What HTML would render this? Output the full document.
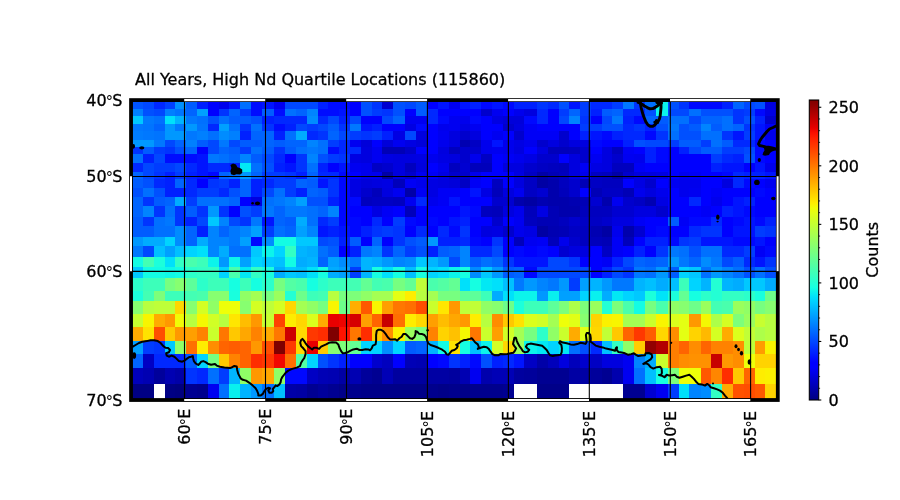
<!DOCTYPE html>
<html lang="en"><head><meta charset="utf-8"><title>All Years, High Nd Quartile Locations</title>
<style>
html,body{margin:0;padding:0;background:#fff;}
body{width:900px;height:500px;overflow:hidden;}
svg{display:block;}
text{font-family:"DejaVu Sans","Liberation Sans",sans-serif;font-size:16px;fill:#000;stroke:#000;stroke-width:0.3px;}
.deg{font-size:14.5px;stroke-width:0;}
</style></head><body>
<svg width="900" height="500" viewBox="0 0 900 500">
<rect width="900" height="500" fill="#fff"/>
<g shape-rendering="crispEdges">
<rect x="131" y="100" width="12" height="9" fill="#0054ff"/>
<rect x="143" y="100" width="11" height="9" fill="#0048ff"/>
<rect x="154" y="100" width="11" height="9" fill="#0028ff"/>
<rect x="165" y="100" width="10" height="9" fill="#0040ff"/>
<rect x="175" y="100" width="11" height="9" fill="#0090ff"/>
<rect x="186" y="100" width="11" height="9" fill="#005cff"/>
<rect x="197" y="100" width="11" height="9" fill="#0020ff"/>
<rect x="208" y="100" width="11" height="9" fill="#0000ff"/>
<rect x="219" y="100" width="10" height="9" fill="#0000ed"/>
<rect x="229" y="100" width="11" height="9" fill="#0014ff"/>
<rect x="240" y="100" width="11" height="9" fill="#0070ff"/>
<rect x="251" y="100" width="11" height="9" fill="#000cff"/>
<rect x="262" y="100" width="12" height="9" fill="#0014ff"/>
<rect x="274" y="100" width="11" height="9" fill="#0000f1"/>
<rect x="285" y="100" width="33" height="9" fill="#0048ff"/>
<rect x="318" y="100" width="10" height="9" fill="#0020ff"/>
<rect x="328" y="100" width="22" height="9" fill="#000cff"/>
<rect x="350" y="100" width="11" height="9" fill="#0000ff"/>
<rect x="361" y="100" width="11" height="9" fill="#0050ff"/>
<rect x="372" y="100" width="10" height="9" fill="#0034ff"/>
<rect x="382" y="100" width="11" height="9" fill="#0000d1"/>
<rect x="393" y="100" width="12" height="9" fill="#0050ff"/>
<rect x="405" y="100" width="11" height="9" fill="#0048ff"/>
<rect x="416" y="100" width="11" height="9" fill="#005cff"/>
<rect x="427" y="100" width="11" height="9" fill="#0000ff"/>
<rect x="438" y="100" width="11" height="9" fill="#0014ff"/>
<rect x="449" y="100" width="11" height="9" fill="#0000f1"/>
<rect x="460" y="100" width="10" height="9" fill="#0014ff"/>
<rect x="470" y="100" width="11" height="9" fill="#0020ff"/>
<rect x="481" y="100" width="11" height="9" fill="#0008ff"/>
<rect x="492" y="100" width="11" height="9" fill="#0014ff"/>
<rect x="503" y="100" width="11" height="9" fill="#0008ff"/>
<rect x="514" y="100" width="23" height="9" fill="#0020ff"/>
<rect x="537" y="100" width="11" height="9" fill="#0034ff"/>
<rect x="548" y="100" width="11" height="9" fill="#0028ff"/>
<rect x="559" y="100" width="10" height="9" fill="#0050ff"/>
<rect x="569" y="100" width="11" height="9" fill="#0014ff"/>
<rect x="580" y="100" width="11" height="9" fill="#003cff"/>
<rect x="591" y="100" width="21" height="9" fill="#0028ff"/>
<rect x="612" y="100" width="11" height="9" fill="#003cff"/>
<rect x="623" y="100" width="11" height="9" fill="#0078ff"/>
<rect x="634" y="100" width="11" height="9" fill="#0034ff"/>
<rect x="645" y="100" width="11" height="9" fill="#0070ff"/>
<rect x="656" y="100" width="12" height="9" fill="#0cf4eb"/>
<rect x="668" y="100" width="11" height="9" fill="#0050ff"/>
<rect x="679" y="100" width="10" height="9" fill="#0034ff"/>
<rect x="689" y="100" width="33" height="9" fill="#0008ff"/>
<rect x="722" y="100" width="11" height="9" fill="#0020ff"/>
<rect x="733" y="100" width="11" height="9" fill="#0064ff"/>
<rect x="744" y="100" width="11" height="9" fill="#0048ff"/>
<rect x="755" y="100" width="10" height="9" fill="#0050ff"/>
<rect x="765" y="100" width="13" height="9" fill="#0000df"/>
<rect x="131" y="109" width="12" height="7" fill="#0080ff"/>
<rect x="143" y="109" width="11" height="7" fill="#0050ff"/>
<rect x="154" y="109" width="11" height="7" fill="#0048ff"/>
<rect x="165" y="109" width="10" height="7" fill="#0080ff"/>
<rect x="175" y="109" width="11" height="7" fill="#0074ff"/>
<rect x="186" y="109" width="11" height="7" fill="#0064ff"/>
<rect x="197" y="109" width="11" height="7" fill="#00a0ff"/>
<rect x="208" y="109" width="11" height="7" fill="#0000ff"/>
<rect x="219" y="109" width="10" height="7" fill="#0034ff"/>
<rect x="229" y="109" width="11" height="7" fill="#0064ff"/>
<rect x="240" y="109" width="11" height="7" fill="#003cff"/>
<rect x="251" y="109" width="11" height="7" fill="#000cff"/>
<rect x="262" y="109" width="12" height="7" fill="#005cff"/>
<rect x="274" y="109" width="11" height="7" fill="#000cff"/>
<rect x="285" y="109" width="11" height="7" fill="#0070ff"/>
<rect x="296" y="109" width="11" height="7" fill="#0064ff"/>
<rect x="307" y="109" width="11" height="7" fill="#0084ff"/>
<rect x="318" y="109" width="21" height="7" fill="#000cff"/>
<rect x="339" y="109" width="11" height="7" fill="#0014ff"/>
<rect x="350" y="109" width="11" height="7" fill="#0000ff"/>
<rect x="361" y="109" width="11" height="7" fill="#0050ff"/>
<rect x="372" y="109" width="10" height="7" fill="#003cff"/>
<rect x="382" y="109" width="11" height="7" fill="#0034ff"/>
<rect x="393" y="109" width="12" height="7" fill="#0050ff"/>
<rect x="405" y="109" width="11" height="7" fill="#0000ff"/>
<rect x="416" y="109" width="11" height="7" fill="#005cff"/>
<rect x="427" y="109" width="11" height="7" fill="#0028ff"/>
<rect x="438" y="109" width="11" height="7" fill="#0000ff"/>
<rect x="449" y="109" width="32" height="7" fill="#0000ff"/>
<rect x="481" y="109" width="11" height="7" fill="#0000cd"/>
<rect x="492" y="109" width="11" height="7" fill="#0000f1"/>
<rect x="503" y="109" width="11" height="7" fill="#0000ff"/>
<rect x="514" y="109" width="10" height="7" fill="#0000ed"/>
<rect x="524" y="109" width="13" height="7" fill="#0000df"/>
<rect x="537" y="109" width="11" height="7" fill="#0028ff"/>
<rect x="548" y="109" width="11" height="7" fill="#0000ff"/>
<rect x="559" y="109" width="10" height="7" fill="#003cff"/>
<rect x="569" y="109" width="11" height="7" fill="#0064ff"/>
<rect x="580" y="109" width="11" height="7" fill="#003cff"/>
<rect x="591" y="109" width="11" height="7" fill="#0020ff"/>
<rect x="602" y="109" width="10" height="7" fill="#005cff"/>
<rect x="612" y="109" width="11" height="7" fill="#0064ff"/>
<rect x="623" y="109" width="22" height="7" fill="#0028ff"/>
<rect x="645" y="109" width="11" height="7" fill="#0050ff"/>
<rect x="656" y="109" width="12" height="7" fill="#0cf4eb"/>
<rect x="668" y="109" width="21" height="7" fill="#0048ff"/>
<rect x="689" y="109" width="12" height="7" fill="#0070ff"/>
<rect x="701" y="109" width="32" height="7" fill="#0050ff"/>
<rect x="733" y="109" width="11" height="7" fill="#0034ff"/>
<rect x="744" y="109" width="11" height="7" fill="#003cff"/>
<rect x="755" y="109" width="10" height="7" fill="#0008ff"/>
<rect x="765" y="109" width="13" height="7" fill="#0000e3"/>
<rect x="131" y="116" width="12" height="8" fill="#00c8ff"/>
<rect x="143" y="116" width="11" height="8" fill="#0078ff"/>
<rect x="154" y="116" width="11" height="8" fill="#0070ff"/>
<rect x="165" y="116" width="10" height="8" fill="#00e0fb"/>
<rect x="175" y="116" width="11" height="8" fill="#00b4ff"/>
<rect x="186" y="116" width="11" height="8" fill="#0078ff"/>
<rect x="197" y="116" width="11" height="8" fill="#0070ff"/>
<rect x="208" y="116" width="11" height="8" fill="#0050ff"/>
<rect x="219" y="116" width="10" height="8" fill="#0070ff"/>
<rect x="229" y="116" width="22" height="8" fill="#005cff"/>
<rect x="251" y="116" width="11" height="8" fill="#0050ff"/>
<rect x="262" y="116" width="12" height="8" fill="#0020ff"/>
<rect x="274" y="116" width="33" height="8" fill="#0028ff"/>
<rect x="307" y="116" width="11" height="8" fill="#008cff"/>
<rect x="318" y="116" width="10" height="8" fill="#0028ff"/>
<rect x="328" y="116" width="11" height="8" fill="#0048ff"/>
<rect x="339" y="116" width="11" height="8" fill="#0020ff"/>
<rect x="350" y="116" width="11" height="8" fill="#0048ff"/>
<rect x="361" y="116" width="21" height="8" fill="#0000ff"/>
<rect x="382" y="116" width="11" height="8" fill="#0048ff"/>
<rect x="393" y="116" width="12" height="8" fill="#0064ff"/>
<rect x="405" y="116" width="22" height="8" fill="#0000f1"/>
<rect x="427" y="116" width="11" height="8" fill="#0028ff"/>
<rect x="438" y="116" width="11" height="8" fill="#0008ff"/>
<rect x="449" y="116" width="11" height="8" fill="#0000f1"/>
<rect x="460" y="116" width="10" height="8" fill="#0000ed"/>
<rect x="470" y="116" width="11" height="8" fill="#0008ff"/>
<rect x="481" y="116" width="11" height="8" fill="#0000ff"/>
<rect x="492" y="116" width="11" height="8" fill="#0000e3"/>
<rect x="503" y="116" width="21" height="8" fill="#0000da"/>
<rect x="524" y="116" width="13" height="8" fill="#0008ff"/>
<rect x="537" y="116" width="11" height="8" fill="#0028ff"/>
<rect x="548" y="116" width="11" height="8" fill="#0000ff"/>
<rect x="559" y="116" width="10" height="8" fill="#0048ff"/>
<rect x="569" y="116" width="11" height="8" fill="#0084ff"/>
<rect x="580" y="116" width="11" height="8" fill="#0034ff"/>
<rect x="591" y="116" width="11" height="8" fill="#0000ff"/>
<rect x="602" y="116" width="10" height="8" fill="#0048ff"/>
<rect x="612" y="116" width="11" height="8" fill="#0078ff"/>
<rect x="623" y="116" width="11" height="8" fill="#0020ff"/>
<rect x="634" y="116" width="11" height="8" fill="#0008ff"/>
<rect x="645" y="116" width="11" height="8" fill="#0064ff"/>
<rect x="656" y="116" width="12" height="8" fill="#005cff"/>
<rect x="668" y="116" width="21" height="8" fill="#0070ff"/>
<rect x="689" y="116" width="12" height="8" fill="#0048ff"/>
<rect x="701" y="116" width="21" height="8" fill="#0064ff"/>
<rect x="722" y="116" width="11" height="8" fill="#0070ff"/>
<rect x="733" y="116" width="11" height="8" fill="#0034ff"/>
<rect x="744" y="116" width="11" height="8" fill="#0050ff"/>
<rect x="755" y="116" width="10" height="8" fill="#0020ff"/>
<rect x="765" y="116" width="13" height="8" fill="#0000cd"/>
<rect x="131" y="124" width="12" height="7" fill="#0078ff"/>
<rect x="143" y="124" width="11" height="7" fill="#0074ff"/>
<rect x="154" y="124" width="11" height="7" fill="#0064ff"/>
<rect x="165" y="124" width="10" height="7" fill="#0098ff"/>
<rect x="175" y="124" width="11" height="7" fill="#0078ff"/>
<rect x="186" y="124" width="11" height="7" fill="#0098ff"/>
<rect x="197" y="124" width="11" height="7" fill="#0074ff"/>
<rect x="208" y="124" width="11" height="7" fill="#0028ff"/>
<rect x="219" y="124" width="10" height="7" fill="#00a0ff"/>
<rect x="229" y="124" width="11" height="7" fill="#0070ff"/>
<rect x="240" y="124" width="11" height="7" fill="#0034ff"/>
<rect x="251" y="124" width="11" height="7" fill="#0070ff"/>
<rect x="262" y="124" width="12" height="7" fill="#0034ff"/>
<rect x="274" y="124" width="11" height="7" fill="#000cff"/>
<rect x="285" y="124" width="11" height="7" fill="#0020ff"/>
<rect x="296" y="124" width="11" height="7" fill="#0048ff"/>
<rect x="307" y="124" width="11" height="7" fill="#003cff"/>
<rect x="318" y="124" width="10" height="7" fill="#0048ff"/>
<rect x="328" y="124" width="11" height="7" fill="#005cff"/>
<rect x="339" y="124" width="11" height="7" fill="#0034ff"/>
<rect x="350" y="124" width="11" height="7" fill="#0078ff"/>
<rect x="361" y="124" width="11" height="7" fill="#0014ff"/>
<rect x="372" y="124" width="10" height="7" fill="#0020ff"/>
<rect x="382" y="124" width="23" height="7" fill="#0000ff"/>
<rect x="405" y="124" width="11" height="7" fill="#0000e3"/>
<rect x="416" y="124" width="11" height="7" fill="#0008ff"/>
<rect x="427" y="124" width="11" height="7" fill="#0000ff"/>
<rect x="438" y="124" width="11" height="7" fill="#0000ed"/>
<rect x="449" y="124" width="11" height="7" fill="#0000f1"/>
<rect x="460" y="124" width="10" height="7" fill="#0000e3"/>
<rect x="470" y="124" width="11" height="7" fill="#0000f1"/>
<rect x="481" y="124" width="22" height="7" fill="#0000ff"/>
<rect x="503" y="124" width="11" height="7" fill="#0000cd"/>
<rect x="514" y="124" width="10" height="7" fill="#0000df"/>
<rect x="524" y="124" width="13" height="7" fill="#0000f6"/>
<rect x="537" y="124" width="32" height="7" fill="#0000ff"/>
<rect x="569" y="124" width="11" height="7" fill="#0000ff"/>
<rect x="580" y="124" width="22" height="7" fill="#003cff"/>
<rect x="602" y="124" width="21" height="7" fill="#0050ff"/>
<rect x="623" y="124" width="11" height="7" fill="#0028ff"/>
<rect x="634" y="124" width="11" height="7" fill="#0034ff"/>
<rect x="645" y="124" width="11" height="7" fill="#0020ff"/>
<rect x="656" y="124" width="12" height="7" fill="#0050ff"/>
<rect x="668" y="124" width="11" height="7" fill="#0078ff"/>
<rect x="679" y="124" width="10" height="7" fill="#0050ff"/>
<rect x="689" y="124" width="12" height="7" fill="#005cff"/>
<rect x="701" y="124" width="10" height="7" fill="#0084ff"/>
<rect x="711" y="124" width="11" height="7" fill="#005cff"/>
<rect x="722" y="124" width="11" height="7" fill="#0070ff"/>
<rect x="733" y="124" width="11" height="7" fill="#0064ff"/>
<rect x="744" y="124" width="11" height="7" fill="#0034ff"/>
<rect x="755" y="124" width="10" height="7" fill="#0014ff"/>
<rect x="765" y="124" width="13" height="7" fill="#0000f6"/>
<rect x="131" y="131" width="12" height="9" fill="#007cff"/>
<rect x="143" y="131" width="11" height="9" fill="#0078ff"/>
<rect x="154" y="131" width="11" height="9" fill="#0074ff"/>
<rect x="165" y="131" width="21" height="9" fill="#0098ff"/>
<rect x="186" y="131" width="11" height="9" fill="#0078ff"/>
<rect x="197" y="131" width="11" height="9" fill="#0080ff"/>
<rect x="208" y="131" width="11" height="9" fill="#0070ff"/>
<rect x="219" y="131" width="10" height="9" fill="#008cff"/>
<rect x="229" y="131" width="11" height="9" fill="#0080ff"/>
<rect x="240" y="131" width="11" height="9" fill="#0020ff"/>
<rect x="251" y="131" width="23" height="9" fill="#0064ff"/>
<rect x="274" y="131" width="11" height="9" fill="#0020ff"/>
<rect x="285" y="131" width="11" height="9" fill="#0070ff"/>
<rect x="296" y="131" width="11" height="9" fill="#00acff"/>
<rect x="307" y="131" width="11" height="9" fill="#0028ff"/>
<rect x="318" y="131" width="10" height="9" fill="#0034ff"/>
<rect x="328" y="131" width="11" height="9" fill="#0064ff"/>
<rect x="339" y="131" width="11" height="9" fill="#0048ff"/>
<rect x="350" y="131" width="11" height="9" fill="#003cff"/>
<rect x="361" y="131" width="11" height="9" fill="#0034ff"/>
<rect x="372" y="131" width="10" height="9" fill="#003cff"/>
<rect x="382" y="131" width="11" height="9" fill="#0020ff"/>
<rect x="393" y="131" width="12" height="9" fill="#0000e3"/>
<rect x="405" y="131" width="11" height="9" fill="#0048ff"/>
<rect x="416" y="131" width="11" height="9" fill="#0000df"/>
<rect x="427" y="131" width="11" height="9" fill="#0000ff"/>
<rect x="438" y="131" width="11" height="9" fill="#0000f1"/>
<rect x="449" y="131" width="11" height="9" fill="#0000df"/>
<rect x="460" y="131" width="10" height="9" fill="#0000cd"/>
<rect x="470" y="131" width="11" height="9" fill="#0000df"/>
<rect x="481" y="131" width="11" height="9" fill="#0000ff"/>
<rect x="492" y="131" width="11" height="9" fill="#0000f1"/>
<rect x="503" y="131" width="11" height="9" fill="#0000ff"/>
<rect x="514" y="131" width="10" height="9" fill="#0000cd"/>
<rect x="524" y="131" width="35" height="9" fill="#0000f6"/>
<rect x="559" y="131" width="10" height="9" fill="#0000cd"/>
<rect x="569" y="131" width="11" height="9" fill="#0000ff"/>
<rect x="580" y="131" width="11" height="9" fill="#0020ff"/>
<rect x="591" y="131" width="11" height="9" fill="#0014ff"/>
<rect x="602" y="131" width="10" height="9" fill="#0008ff"/>
<rect x="612" y="131" width="11" height="9" fill="#0020ff"/>
<rect x="623" y="131" width="22" height="9" fill="#0028ff"/>
<rect x="645" y="131" width="11" height="9" fill="#0008ff"/>
<rect x="656" y="131" width="12" height="9" fill="#0034ff"/>
<rect x="668" y="131" width="11" height="9" fill="#0070ff"/>
<rect x="679" y="131" width="22" height="9" fill="#0050ff"/>
<rect x="701" y="131" width="21" height="9" fill="#0070ff"/>
<rect x="722" y="131" width="11" height="9" fill="#0034ff"/>
<rect x="733" y="131" width="11" height="9" fill="#0014ff"/>
<rect x="744" y="131" width="11" height="9" fill="#003cff"/>
<rect x="755" y="131" width="10" height="9" fill="#0014ff"/>
<rect x="765" y="131" width="13" height="9" fill="#0000ed"/>
<rect x="131" y="140" width="23" height="7" fill="#0098ff"/>
<rect x="154" y="140" width="11" height="7" fill="#0078ff"/>
<rect x="165" y="140" width="10" height="7" fill="#0048ff"/>
<rect x="175" y="140" width="11" height="7" fill="#0064ff"/>
<rect x="186" y="140" width="11" height="7" fill="#0080ff"/>
<rect x="197" y="140" width="11" height="7" fill="#005cff"/>
<rect x="208" y="140" width="11" height="7" fill="#0048ff"/>
<rect x="219" y="140" width="10" height="7" fill="#0078ff"/>
<rect x="229" y="140" width="11" height="7" fill="#0048ff"/>
<rect x="240" y="140" width="22" height="7" fill="#005cff"/>
<rect x="262" y="140" width="12" height="7" fill="#0064ff"/>
<rect x="274" y="140" width="11" height="7" fill="#005cff"/>
<rect x="285" y="140" width="22" height="7" fill="#0064ff"/>
<rect x="307" y="140" width="11" height="7" fill="#0084ff"/>
<rect x="318" y="140" width="10" height="7" fill="#0070ff"/>
<rect x="328" y="140" width="11" height="7" fill="#003cff"/>
<rect x="339" y="140" width="11" height="7" fill="#0028ff"/>
<rect x="350" y="140" width="11" height="7" fill="#0000f1"/>
<rect x="361" y="140" width="11" height="7" fill="#0000da"/>
<rect x="372" y="140" width="10" height="7" fill="#0000ff"/>
<rect x="382" y="140" width="11" height="7" fill="#0000da"/>
<rect x="393" y="140" width="12" height="7" fill="#0000f1"/>
<rect x="405" y="140" width="11" height="7" fill="#0000e3"/>
<rect x="416" y="140" width="11" height="7" fill="#0000da"/>
<rect x="427" y="140" width="11" height="7" fill="#0000ff"/>
<rect x="438" y="140" width="11" height="7" fill="#0000ed"/>
<rect x="449" y="140" width="11" height="7" fill="#0000df"/>
<rect x="460" y="140" width="10" height="7" fill="#0000b2"/>
<rect x="470" y="140" width="11" height="7" fill="#0000c4"/>
<rect x="481" y="140" width="11" height="7" fill="#0000ed"/>
<rect x="492" y="140" width="11" height="7" fill="#0014ff"/>
<rect x="503" y="140" width="11" height="7" fill="#0000ed"/>
<rect x="514" y="140" width="10" height="7" fill="#0000e3"/>
<rect x="524" y="140" width="13" height="7" fill="#0000ed"/>
<rect x="537" y="140" width="11" height="7" fill="#0000cd"/>
<rect x="548" y="140" width="11" height="7" fill="#0000df"/>
<rect x="559" y="140" width="10" height="7" fill="#0000cd"/>
<rect x="569" y="140" width="22" height="7" fill="#0000df"/>
<rect x="591" y="140" width="11" height="7" fill="#0008ff"/>
<rect x="602" y="140" width="10" height="7" fill="#0000ff"/>
<rect x="612" y="140" width="11" height="7" fill="#0000ff"/>
<rect x="623" y="140" width="11" height="7" fill="#0020ff"/>
<rect x="634" y="140" width="11" height="7" fill="#0050ff"/>
<rect x="645" y="140" width="23" height="7" fill="#0048ff"/>
<rect x="668" y="140" width="11" height="7" fill="#003cff"/>
<rect x="679" y="140" width="22" height="7" fill="#005cff"/>
<rect x="701" y="140" width="10" height="7" fill="#003cff"/>
<rect x="711" y="140" width="11" height="7" fill="#0070ff"/>
<rect x="722" y="140" width="11" height="7" fill="#005cff"/>
<rect x="733" y="140" width="22" height="7" fill="#0028ff"/>
<rect x="755" y="140" width="10" height="7" fill="#0008ff"/>
<rect x="765" y="140" width="13" height="7" fill="#0000ff"/>
<rect x="131" y="147" width="12" height="7" fill="#0034ff"/>
<rect x="143" y="147" width="11" height="7" fill="#005cff"/>
<rect x="154" y="147" width="11" height="7" fill="#003cff"/>
<rect x="165" y="147" width="10" height="7" fill="#0034ff"/>
<rect x="175" y="147" width="11" height="7" fill="#0050ff"/>
<rect x="186" y="147" width="11" height="7" fill="#0064ff"/>
<rect x="197" y="147" width="11" height="7" fill="#0000ff"/>
<rect x="208" y="147" width="11" height="7" fill="#0048ff"/>
<rect x="219" y="147" width="10" height="7" fill="#0064ff"/>
<rect x="229" y="147" width="11" height="7" fill="#005cff"/>
<rect x="240" y="147" width="11" height="7" fill="#003cff"/>
<rect x="251" y="147" width="11" height="7" fill="#0070ff"/>
<rect x="262" y="147" width="12" height="7" fill="#005cff"/>
<rect x="274" y="147" width="11" height="7" fill="#0034ff"/>
<rect x="285" y="147" width="11" height="7" fill="#005cff"/>
<rect x="296" y="147" width="11" height="7" fill="#0070ff"/>
<rect x="307" y="147" width="11" height="7" fill="#0078ff"/>
<rect x="318" y="147" width="10" height="7" fill="#0070ff"/>
<rect x="328" y="147" width="11" height="7" fill="#000cff"/>
<rect x="339" y="147" width="22" height="7" fill="#0028ff"/>
<rect x="361" y="147" width="11" height="7" fill="#0000df"/>
<rect x="372" y="147" width="10" height="7" fill="#0000f1"/>
<rect x="382" y="147" width="23" height="7" fill="#0000b6"/>
<rect x="405" y="147" width="11" height="7" fill="#0000c8"/>
<rect x="416" y="147" width="11" height="7" fill="#0000ff"/>
<rect x="427" y="147" width="11" height="7" fill="#0000ff"/>
<rect x="438" y="147" width="11" height="7" fill="#0000df"/>
<rect x="449" y="147" width="11" height="7" fill="#0000bf"/>
<rect x="460" y="147" width="21" height="7" fill="#0000cd"/>
<rect x="481" y="147" width="11" height="7" fill="#0000ed"/>
<rect x="492" y="147" width="11" height="7" fill="#0000f1"/>
<rect x="503" y="147" width="11" height="7" fill="#0000ed"/>
<rect x="514" y="147" width="10" height="7" fill="#0000df"/>
<rect x="524" y="147" width="13" height="7" fill="#0000ff"/>
<rect x="537" y="147" width="11" height="7" fill="#0000df"/>
<rect x="548" y="147" width="21" height="7" fill="#0000bb"/>
<rect x="569" y="147" width="11" height="7" fill="#0000bf"/>
<rect x="580" y="147" width="11" height="7" fill="#0000cd"/>
<rect x="591" y="147" width="11" height="7" fill="#0000ff"/>
<rect x="602" y="147" width="10" height="7" fill="#0000df"/>
<rect x="612" y="147" width="11" height="7" fill="#0000bf"/>
<rect x="623" y="147" width="11" height="7" fill="#0000f6"/>
<rect x="634" y="147" width="11" height="7" fill="#0000ff"/>
<rect x="645" y="147" width="11" height="7" fill="#0020ff"/>
<rect x="656" y="147" width="12" height="7" fill="#0008ff"/>
<rect x="668" y="147" width="11" height="7" fill="#0000ff"/>
<rect x="679" y="147" width="10" height="7" fill="#0020ff"/>
<rect x="689" y="147" width="12" height="7" fill="#0048ff"/>
<rect x="701" y="147" width="21" height="7" fill="#005cff"/>
<rect x="722" y="147" width="22" height="7" fill="#003cff"/>
<rect x="744" y="147" width="11" height="7" fill="#0048ff"/>
<rect x="755" y="147" width="10" height="7" fill="#0008ff"/>
<rect x="765" y="147" width="13" height="7" fill="#0000ff"/>
<rect x="131" y="154" width="12" height="9" fill="#0070ff"/>
<rect x="143" y="154" width="11" height="9" fill="#0020ff"/>
<rect x="154" y="154" width="11" height="9" fill="#0048ff"/>
<rect x="165" y="154" width="32" height="9" fill="#000cff"/>
<rect x="197" y="154" width="11" height="9" fill="#0014ff"/>
<rect x="208" y="154" width="11" height="9" fill="#0078ff"/>
<rect x="219" y="154" width="10" height="9" fill="#0070ff"/>
<rect x="229" y="154" width="11" height="9" fill="#0064ff"/>
<rect x="240" y="154" width="11" height="9" fill="#0084ff"/>
<rect x="251" y="154" width="11" height="9" fill="#005cff"/>
<rect x="262" y="154" width="12" height="9" fill="#0048ff"/>
<rect x="274" y="154" width="11" height="9" fill="#0028ff"/>
<rect x="285" y="154" width="11" height="9" fill="#0000ff"/>
<rect x="296" y="154" width="11" height="9" fill="#0034ff"/>
<rect x="307" y="154" width="11" height="9" fill="#0084ff"/>
<rect x="318" y="154" width="10" height="9" fill="#0050ff"/>
<rect x="328" y="154" width="11" height="9" fill="#003cff"/>
<rect x="339" y="154" width="11" height="9" fill="#0034ff"/>
<rect x="350" y="154" width="11" height="9" fill="#0000e3"/>
<rect x="361" y="154" width="11" height="9" fill="#0000df"/>
<rect x="372" y="154" width="10" height="9" fill="#0000f1"/>
<rect x="382" y="154" width="11" height="9" fill="#0000e3"/>
<rect x="393" y="154" width="23" height="9" fill="#0000df"/>
<rect x="416" y="154" width="11" height="9" fill="#0000e3"/>
<rect x="427" y="154" width="11" height="9" fill="#0000ed"/>
<rect x="438" y="154" width="11" height="9" fill="#0000e3"/>
<rect x="449" y="154" width="11" height="9" fill="#0000df"/>
<rect x="460" y="154" width="10" height="9" fill="#0000cd"/>
<rect x="470" y="154" width="11" height="9" fill="#0000ed"/>
<rect x="481" y="154" width="11" height="9" fill="#0000c4"/>
<rect x="492" y="154" width="11" height="9" fill="#0000ff"/>
<rect x="503" y="154" width="11" height="9" fill="#0000f6"/>
<rect x="514" y="154" width="10" height="9" fill="#0000ed"/>
<rect x="524" y="154" width="13" height="9" fill="#0000e3"/>
<rect x="537" y="154" width="22" height="9" fill="#0000cd"/>
<rect x="559" y="154" width="10" height="9" fill="#0000ff"/>
<rect x="569" y="154" width="11" height="9" fill="#0000df"/>
<rect x="580" y="154" width="11" height="9" fill="#0000cd"/>
<rect x="591" y="154" width="11" height="9" fill="#0000f1"/>
<rect x="602" y="154" width="10" height="9" fill="#0000df"/>
<rect x="612" y="154" width="11" height="9" fill="#0000cd"/>
<rect x="623" y="154" width="11" height="9" fill="#0000f1"/>
<rect x="634" y="154" width="11" height="9" fill="#0000ed"/>
<rect x="645" y="154" width="11" height="9" fill="#0020ff"/>
<rect x="656" y="154" width="12" height="9" fill="#0008ff"/>
<rect x="668" y="154" width="21" height="9" fill="#0000ff"/>
<rect x="689" y="154" width="22" height="9" fill="#0000ff"/>
<rect x="711" y="154" width="11" height="9" fill="#003cff"/>
<rect x="722" y="154" width="11" height="9" fill="#0028ff"/>
<rect x="733" y="154" width="11" height="9" fill="#0020ff"/>
<rect x="744" y="154" width="11" height="9" fill="#0050ff"/>
<rect x="755" y="154" width="10" height="9" fill="#0008ff"/>
<rect x="765" y="154" width="13" height="9" fill="#0000ff"/>
<rect x="131" y="163" width="12" height="9" fill="#0028ff"/>
<rect x="143" y="163" width="11" height="9" fill="#0048ff"/>
<rect x="154" y="163" width="21" height="9" fill="#003cff"/>
<rect x="175" y="163" width="11" height="9" fill="#0048ff"/>
<rect x="186" y="163" width="11" height="9" fill="#0028ff"/>
<rect x="197" y="163" width="11" height="9" fill="#0014ff"/>
<rect x="208" y="163" width="21" height="9" fill="#0028ff"/>
<rect x="229" y="163" width="11" height="9" fill="#0020ff"/>
<rect x="240" y="163" width="11" height="9" fill="#02e8f4"/>
<rect x="251" y="163" width="11" height="9" fill="#0070ff"/>
<rect x="262" y="163" width="12" height="9" fill="#0050ff"/>
<rect x="274" y="163" width="11" height="9" fill="#0020ff"/>
<rect x="285" y="163" width="11" height="9" fill="#0014ff"/>
<rect x="296" y="163" width="11" height="9" fill="#0034ff"/>
<rect x="307" y="163" width="11" height="9" fill="#0070ff"/>
<rect x="318" y="163" width="10" height="9" fill="#0020ff"/>
<rect x="328" y="163" width="11" height="9" fill="#0000ff"/>
<rect x="339" y="163" width="11" height="9" fill="#0014ff"/>
<rect x="350" y="163" width="11" height="9" fill="#0000f1"/>
<rect x="361" y="163" width="11" height="9" fill="#0000ed"/>
<rect x="372" y="163" width="10" height="9" fill="#0000c4"/>
<rect x="382" y="163" width="11" height="9" fill="#0000cd"/>
<rect x="393" y="163" width="12" height="9" fill="#0000df"/>
<rect x="405" y="163" width="11" height="9" fill="#0000bf"/>
<rect x="416" y="163" width="11" height="9" fill="#0000df"/>
<rect x="427" y="163" width="11" height="9" fill="#0000ff"/>
<rect x="438" y="163" width="11" height="9" fill="#0000ed"/>
<rect x="449" y="163" width="11" height="9" fill="#0000bf"/>
<rect x="460" y="163" width="10" height="9" fill="#0000d1"/>
<rect x="470" y="163" width="22" height="9" fill="#0000bb"/>
<rect x="492" y="163" width="11" height="9" fill="#0000ff"/>
<rect x="503" y="163" width="21" height="9" fill="#0000df"/>
<rect x="524" y="163" width="13" height="9" fill="#0000cd"/>
<rect x="537" y="163" width="11" height="9" fill="#0000c4"/>
<rect x="548" y="163" width="11" height="9" fill="#0000bf"/>
<rect x="559" y="163" width="10" height="9" fill="#0000bb"/>
<rect x="569" y="163" width="11" height="9" fill="#0000df"/>
<rect x="580" y="163" width="11" height="9" fill="#0000f6"/>
<rect x="591" y="163" width="11" height="9" fill="#0000e3"/>
<rect x="602" y="163" width="10" height="9" fill="#0000df"/>
<rect x="612" y="163" width="22" height="9" fill="#0000bf"/>
<rect x="634" y="163" width="11" height="9" fill="#0000f6"/>
<rect x="645" y="163" width="11" height="9" fill="#0000ff"/>
<rect x="656" y="163" width="12" height="9" fill="#0000ff"/>
<rect x="668" y="163" width="11" height="9" fill="#0000ff"/>
<rect x="679" y="163" width="10" height="9" fill="#0000ff"/>
<rect x="689" y="163" width="22" height="9" fill="#0000ff"/>
<rect x="711" y="163" width="11" height="9" fill="#0020ff"/>
<rect x="722" y="163" width="22" height="9" fill="#0014ff"/>
<rect x="744" y="163" width="11" height="9" fill="#0000ff"/>
<rect x="755" y="163" width="10" height="9" fill="#0014ff"/>
<rect x="765" y="163" width="13" height="9" fill="#0000ed"/>
<rect x="131" y="172" width="12" height="7" fill="#0064ff"/>
<rect x="143" y="172" width="11" height="7" fill="#0048ff"/>
<rect x="154" y="172" width="11" height="7" fill="#0034ff"/>
<rect x="165" y="172" width="10" height="7" fill="#0020ff"/>
<rect x="175" y="172" width="11" height="7" fill="#003cff"/>
<rect x="186" y="172" width="11" height="7" fill="#0020ff"/>
<rect x="197" y="172" width="11" height="7" fill="#0014ff"/>
<rect x="208" y="172" width="11" height="7" fill="#0008ff"/>
<rect x="219" y="172" width="10" height="7" fill="#0064ff"/>
<rect x="229" y="172" width="11" height="7" fill="#0070ff"/>
<rect x="240" y="172" width="11" height="7" fill="#0098ff"/>
<rect x="251" y="172" width="11" height="7" fill="#0064ff"/>
<rect x="262" y="172" width="23" height="7" fill="#003cff"/>
<rect x="285" y="172" width="11" height="7" fill="#0034ff"/>
<rect x="296" y="172" width="11" height="7" fill="#0020ff"/>
<rect x="307" y="172" width="11" height="7" fill="#0064ff"/>
<rect x="318" y="172" width="21" height="7" fill="#0028ff"/>
<rect x="339" y="172" width="11" height="7" fill="#0008ff"/>
<rect x="350" y="172" width="11" height="7" fill="#0000ff"/>
<rect x="361" y="172" width="21" height="7" fill="#0000ed"/>
<rect x="382" y="172" width="11" height="7" fill="#0000a8"/>
<rect x="393" y="172" width="12" height="7" fill="#0000df"/>
<rect x="405" y="172" width="11" height="7" fill="#0000cd"/>
<rect x="416" y="172" width="11" height="7" fill="#0000f1"/>
<rect x="427" y="172" width="11" height="7" fill="#0000f6"/>
<rect x="438" y="172" width="11" height="7" fill="#0000e3"/>
<rect x="449" y="172" width="21" height="7" fill="#0000cd"/>
<rect x="470" y="172" width="11" height="7" fill="#0000ed"/>
<rect x="481" y="172" width="33" height="7" fill="#0000ff"/>
<rect x="514" y="172" width="10" height="7" fill="#0000e3"/>
<rect x="524" y="172" width="13" height="7" fill="#0000c4"/>
<rect x="537" y="172" width="11" height="7" fill="#0000a8"/>
<rect x="548" y="172" width="11" height="7" fill="#0000b6"/>
<rect x="559" y="172" width="10" height="7" fill="#0000bf"/>
<rect x="569" y="172" width="11" height="7" fill="#0000df"/>
<rect x="580" y="172" width="11" height="7" fill="#0000ed"/>
<rect x="591" y="172" width="11" height="7" fill="#0000c4"/>
<rect x="602" y="172" width="10" height="7" fill="#0000bf"/>
<rect x="612" y="172" width="11" height="7" fill="#0000a8"/>
<rect x="623" y="172" width="11" height="7" fill="#0000cd"/>
<rect x="634" y="172" width="22" height="7" fill="#0000df"/>
<rect x="656" y="172" width="12" height="7" fill="#0000e3"/>
<rect x="668" y="172" width="11" height="7" fill="#0000ff"/>
<rect x="679" y="172" width="10" height="7" fill="#0000f1"/>
<rect x="689" y="172" width="12" height="7" fill="#0000f6"/>
<rect x="701" y="172" width="10" height="7" fill="#0000ff"/>
<rect x="711" y="172" width="11" height="7" fill="#0000ff"/>
<rect x="722" y="172" width="11" height="7" fill="#0008ff"/>
<rect x="733" y="172" width="11" height="7" fill="#0028ff"/>
<rect x="744" y="172" width="21" height="7" fill="#0020ff"/>
<rect x="765" y="172" width="13" height="7" fill="#0014ff"/>
<rect x="131" y="179" width="12" height="9" fill="#005cff"/>
<rect x="143" y="179" width="11" height="9" fill="#0050ff"/>
<rect x="154" y="179" width="11" height="9" fill="#0028ff"/>
<rect x="165" y="179" width="10" height="9" fill="#0020ff"/>
<rect x="175" y="179" width="11" height="9" fill="#0064ff"/>
<rect x="186" y="179" width="11" height="9" fill="#0028ff"/>
<rect x="197" y="179" width="11" height="9" fill="#0000ff"/>
<rect x="208" y="179" width="11" height="9" fill="#0034ff"/>
<rect x="219" y="179" width="10" height="9" fill="#003cff"/>
<rect x="229" y="179" width="11" height="9" fill="#0020ff"/>
<rect x="240" y="179" width="11" height="9" fill="#0064ff"/>
<rect x="251" y="179" width="11" height="9" fill="#0020ff"/>
<rect x="262" y="179" width="12" height="9" fill="#0028ff"/>
<rect x="274" y="179" width="22" height="9" fill="#003cff"/>
<rect x="296" y="179" width="11" height="9" fill="#0064ff"/>
<rect x="307" y="179" width="11" height="9" fill="#005cff"/>
<rect x="318" y="179" width="10" height="9" fill="#0014ff"/>
<rect x="328" y="179" width="11" height="9" fill="#0034ff"/>
<rect x="339" y="179" width="11" height="9" fill="#0008ff"/>
<rect x="350" y="179" width="11" height="9" fill="#0000e3"/>
<rect x="361" y="179" width="11" height="9" fill="#0000da"/>
<rect x="372" y="179" width="10" height="9" fill="#0000df"/>
<rect x="382" y="179" width="11" height="9" fill="#0000e3"/>
<rect x="393" y="179" width="12" height="9" fill="#0000bb"/>
<rect x="405" y="179" width="11" height="9" fill="#0000f6"/>
<rect x="416" y="179" width="11" height="9" fill="#0000ed"/>
<rect x="427" y="179" width="11" height="9" fill="#0000e3"/>
<rect x="438" y="179" width="11" height="9" fill="#0000df"/>
<rect x="449" y="179" width="11" height="9" fill="#0000da"/>
<rect x="460" y="179" width="10" height="9" fill="#0000c4"/>
<rect x="470" y="179" width="11" height="9" fill="#0000f6"/>
<rect x="481" y="179" width="11" height="9" fill="#0000ff"/>
<rect x="492" y="179" width="11" height="9" fill="#0000bf"/>
<rect x="503" y="179" width="11" height="9" fill="#0000ff"/>
<rect x="514" y="179" width="10" height="9" fill="#0000df"/>
<rect x="524" y="179" width="13" height="9" fill="#0000c4"/>
<rect x="537" y="179" width="11" height="9" fill="#0000a4"/>
<rect x="548" y="179" width="11" height="9" fill="#0000ad"/>
<rect x="559" y="179" width="10" height="9" fill="#0000bf"/>
<rect x="569" y="179" width="11" height="9" fill="#0000cd"/>
<rect x="580" y="179" width="11" height="9" fill="#0000b6"/>
<rect x="591" y="179" width="11" height="9" fill="#0000c4"/>
<rect x="602" y="179" width="21" height="9" fill="#0000bf"/>
<rect x="623" y="179" width="11" height="9" fill="#0000ff"/>
<rect x="634" y="179" width="11" height="9" fill="#0000e3"/>
<rect x="645" y="179" width="11" height="9" fill="#0000cd"/>
<rect x="656" y="179" width="12" height="9" fill="#0000ff"/>
<rect x="668" y="179" width="11" height="9" fill="#0000f1"/>
<rect x="679" y="179" width="22" height="9" fill="#0000ed"/>
<rect x="701" y="179" width="21" height="9" fill="#0000ff"/>
<rect x="722" y="179" width="11" height="9" fill="#0000df"/>
<rect x="733" y="179" width="11" height="9" fill="#0028ff"/>
<rect x="744" y="179" width="11" height="9" fill="#0008ff"/>
<rect x="755" y="179" width="10" height="9" fill="#0000ff"/>
<rect x="765" y="179" width="13" height="9" fill="#0000f1"/>
<rect x="131" y="188" width="12" height="9" fill="#0050ff"/>
<rect x="143" y="188" width="11" height="9" fill="#0070ff"/>
<rect x="154" y="188" width="11" height="9" fill="#0050ff"/>
<rect x="165" y="188" width="21" height="9" fill="#0020ff"/>
<rect x="186" y="188" width="11" height="9" fill="#0028ff"/>
<rect x="197" y="188" width="22" height="9" fill="#003cff"/>
<rect x="219" y="188" width="10" height="9" fill="#0028ff"/>
<rect x="229" y="188" width="11" height="9" fill="#0050ff"/>
<rect x="240" y="188" width="11" height="9" fill="#0064ff"/>
<rect x="251" y="188" width="11" height="9" fill="#0020ff"/>
<rect x="262" y="188" width="12" height="9" fill="#0048ff"/>
<rect x="274" y="188" width="11" height="9" fill="#0070ff"/>
<rect x="285" y="188" width="11" height="9" fill="#003cff"/>
<rect x="296" y="188" width="11" height="9" fill="#0020ff"/>
<rect x="307" y="188" width="11" height="9" fill="#0064ff"/>
<rect x="318" y="188" width="10" height="9" fill="#005cff"/>
<rect x="328" y="188" width="11" height="9" fill="#0034ff"/>
<rect x="339" y="188" width="11" height="9" fill="#0008ff"/>
<rect x="350" y="188" width="11" height="9" fill="#0000e3"/>
<rect x="361" y="188" width="11" height="9" fill="#0000cd"/>
<rect x="372" y="188" width="10" height="9" fill="#0000bb"/>
<rect x="382" y="188" width="11" height="9" fill="#0000df"/>
<rect x="393" y="188" width="12" height="9" fill="#0000f1"/>
<rect x="405" y="188" width="11" height="9" fill="#0000a8"/>
<rect x="416" y="188" width="11" height="9" fill="#0000f6"/>
<rect x="427" y="188" width="11" height="9" fill="#0000e3"/>
<rect x="438" y="188" width="22" height="9" fill="#0000f6"/>
<rect x="460" y="188" width="10" height="9" fill="#0000ff"/>
<rect x="470" y="188" width="11" height="9" fill="#0014ff"/>
<rect x="481" y="188" width="11" height="9" fill="#0000e3"/>
<rect x="492" y="188" width="11" height="9" fill="#0000bb"/>
<rect x="503" y="188" width="11" height="9" fill="#0000df"/>
<rect x="514" y="188" width="10" height="9" fill="#0000f1"/>
<rect x="524" y="188" width="13" height="9" fill="#0000c4"/>
<rect x="537" y="188" width="11" height="9" fill="#0000d1"/>
<rect x="548" y="188" width="11" height="9" fill="#0000ad"/>
<rect x="559" y="188" width="10" height="9" fill="#0000bb"/>
<rect x="569" y="188" width="11" height="9" fill="#0000cd"/>
<rect x="580" y="188" width="11" height="9" fill="#0000ff"/>
<rect x="591" y="188" width="11" height="9" fill="#0000b6"/>
<rect x="602" y="188" width="21" height="9" fill="#0000c4"/>
<rect x="623" y="188" width="11" height="9" fill="#0000b6"/>
<rect x="634" y="188" width="11" height="9" fill="#0000ed"/>
<rect x="645" y="188" width="11" height="9" fill="#0000df"/>
<rect x="656" y="188" width="12" height="9" fill="#0000ed"/>
<rect x="668" y="188" width="11" height="9" fill="#0000ff"/>
<rect x="679" y="188" width="10" height="9" fill="#0000ed"/>
<rect x="689" y="188" width="12" height="9" fill="#0000f1"/>
<rect x="701" y="188" width="10" height="9" fill="#0000ff"/>
<rect x="711" y="188" width="11" height="9" fill="#0000f6"/>
<rect x="722" y="188" width="22" height="9" fill="#0000ff"/>
<rect x="744" y="188" width="11" height="9" fill="#0000ff"/>
<rect x="755" y="188" width="10" height="9" fill="#0008ff"/>
<rect x="765" y="188" width="13" height="9" fill="#0000ff"/>
<rect x="131" y="197" width="12" height="9" fill="#0064ff"/>
<rect x="143" y="197" width="11" height="9" fill="#0034ff"/>
<rect x="154" y="197" width="11" height="9" fill="#005cff"/>
<rect x="165" y="197" width="10" height="9" fill="#0064ff"/>
<rect x="175" y="197" width="11" height="9" fill="#00acff"/>
<rect x="186" y="197" width="11" height="9" fill="#003cff"/>
<rect x="197" y="197" width="32" height="9" fill="#0070ff"/>
<rect x="229" y="197" width="11" height="9" fill="#0064ff"/>
<rect x="240" y="197" width="11" height="9" fill="#0000ff"/>
<rect x="251" y="197" width="11" height="9" fill="#0000df"/>
<rect x="262" y="197" width="12" height="9" fill="#0070ff"/>
<rect x="274" y="197" width="11" height="9" fill="#0078ff"/>
<rect x="285" y="197" width="11" height="9" fill="#0084ff"/>
<rect x="296" y="197" width="11" height="9" fill="#00a0ff"/>
<rect x="307" y="197" width="21" height="9" fill="#0050ff"/>
<rect x="328" y="197" width="11" height="9" fill="#0020ff"/>
<rect x="339" y="197" width="22" height="9" fill="#0008ff"/>
<rect x="361" y="197" width="11" height="9" fill="#0000bf"/>
<rect x="372" y="197" width="21" height="9" fill="#0000c4"/>
<rect x="393" y="197" width="12" height="9" fill="#0000bf"/>
<rect x="405" y="197" width="11" height="9" fill="#0000f1"/>
<rect x="416" y="197" width="11" height="9" fill="#0028ff"/>
<rect x="427" y="197" width="11" height="9" fill="#0000ed"/>
<rect x="438" y="197" width="11" height="9" fill="#0000f6"/>
<rect x="449" y="197" width="11" height="9" fill="#0014ff"/>
<rect x="460" y="197" width="21" height="9" fill="#0000ff"/>
<rect x="481" y="197" width="11" height="9" fill="#0000ff"/>
<rect x="492" y="197" width="11" height="9" fill="#0000cd"/>
<rect x="503" y="197" width="11" height="9" fill="#0000d1"/>
<rect x="514" y="197" width="10" height="9" fill="#0000ad"/>
<rect x="524" y="197" width="13" height="9" fill="#0000a4"/>
<rect x="537" y="197" width="11" height="9" fill="#0000b2"/>
<rect x="548" y="197" width="21" height="9" fill="#0000ad"/>
<rect x="569" y="197" width="11" height="9" fill="#0000b2"/>
<rect x="580" y="197" width="11" height="9" fill="#0000b6"/>
<rect x="591" y="197" width="11" height="9" fill="#0000d1"/>
<rect x="602" y="197" width="10" height="9" fill="#0000ad"/>
<rect x="612" y="197" width="11" height="9" fill="#0000f1"/>
<rect x="623" y="197" width="11" height="9" fill="#0000cd"/>
<rect x="634" y="197" width="11" height="9" fill="#0000c4"/>
<rect x="645" y="197" width="11" height="9" fill="#0000b2"/>
<rect x="656" y="197" width="12" height="9" fill="#0000e3"/>
<rect x="668" y="197" width="21" height="9" fill="#0000ff"/>
<rect x="689" y="197" width="12" height="9" fill="#0028ff"/>
<rect x="701" y="197" width="10" height="9" fill="#0000ff"/>
<rect x="711" y="197" width="11" height="9" fill="#0000ed"/>
<rect x="722" y="197" width="11" height="9" fill="#0000ff"/>
<rect x="733" y="197" width="11" height="9" fill="#0014ff"/>
<rect x="744" y="197" width="11" height="9" fill="#0020ff"/>
<rect x="755" y="197" width="23" height="9" fill="#0000ff"/>
<rect x="131" y="206" width="12" height="11" fill="#0064ff"/>
<rect x="143" y="206" width="11" height="11" fill="#0084ff"/>
<rect x="154" y="206" width="11" height="11" fill="#0034ff"/>
<rect x="165" y="206" width="10" height="11" fill="#0070ff"/>
<rect x="175" y="206" width="11" height="11" fill="#0034ff"/>
<rect x="186" y="206" width="11" height="11" fill="#005cff"/>
<rect x="197" y="206" width="11" height="11" fill="#0034ff"/>
<rect x="208" y="206" width="11" height="11" fill="#0098ff"/>
<rect x="219" y="206" width="10" height="11" fill="#0034ff"/>
<rect x="229" y="206" width="11" height="11" fill="#0000ff"/>
<rect x="240" y="206" width="11" height="11" fill="#0050ff"/>
<rect x="251" y="206" width="11" height="11" fill="#003cff"/>
<rect x="262" y="206" width="12" height="11" fill="#0078ff"/>
<rect x="274" y="206" width="11" height="11" fill="#0064ff"/>
<rect x="285" y="206" width="22" height="11" fill="#0078ff"/>
<rect x="307" y="206" width="11" height="11" fill="#0070ff"/>
<rect x="318" y="206" width="10" height="11" fill="#0064ff"/>
<rect x="328" y="206" width="11" height="11" fill="#0084ff"/>
<rect x="339" y="206" width="11" height="11" fill="#0008ff"/>
<rect x="350" y="206" width="11" height="11" fill="#0000ff"/>
<rect x="361" y="206" width="11" height="11" fill="#0000ff"/>
<rect x="372" y="206" width="10" height="11" fill="#0000e3"/>
<rect x="382" y="206" width="11" height="11" fill="#0000f6"/>
<rect x="393" y="206" width="12" height="11" fill="#0000ff"/>
<rect x="405" y="206" width="11" height="11" fill="#0000bb"/>
<rect x="416" y="206" width="33" height="11" fill="#0000ff"/>
<rect x="449" y="206" width="11" height="11" fill="#0000ff"/>
<rect x="460" y="206" width="10" height="11" fill="#0014ff"/>
<rect x="470" y="206" width="11" height="11" fill="#0008ff"/>
<rect x="481" y="206" width="11" height="11" fill="#0000bf"/>
<rect x="492" y="206" width="11" height="11" fill="#0000bb"/>
<rect x="503" y="206" width="11" height="11" fill="#0000df"/>
<rect x="514" y="206" width="10" height="11" fill="#0000ed"/>
<rect x="524" y="206" width="13" height="11" fill="#0000bb"/>
<rect x="537" y="206" width="11" height="11" fill="#0000e3"/>
<rect x="548" y="206" width="11" height="11" fill="#0000b6"/>
<rect x="559" y="206" width="21" height="11" fill="#0000ad"/>
<rect x="580" y="206" width="11" height="11" fill="#0000bb"/>
<rect x="591" y="206" width="21" height="11" fill="#0000bf"/>
<rect x="612" y="206" width="22" height="11" fill="#0000d1"/>
<rect x="634" y="206" width="22" height="11" fill="#0000df"/>
<rect x="656" y="206" width="12" height="11" fill="#0000cd"/>
<rect x="668" y="206" width="11" height="11" fill="#0000ff"/>
<rect x="679" y="206" width="10" height="11" fill="#0000ff"/>
<rect x="689" y="206" width="12" height="11" fill="#0000ff"/>
<rect x="701" y="206" width="10" height="11" fill="#0000f6"/>
<rect x="711" y="206" width="11" height="11" fill="#0000ff"/>
<rect x="722" y="206" width="11" height="11" fill="#0020ff"/>
<rect x="733" y="206" width="11" height="11" fill="#0014ff"/>
<rect x="744" y="206" width="11" height="11" fill="#0008ff"/>
<rect x="755" y="206" width="23" height="11" fill="#0000ff"/>
<rect x="131" y="217" width="12" height="9" fill="#005cff"/>
<rect x="143" y="217" width="11" height="9" fill="#0034ff"/>
<rect x="154" y="217" width="11" height="9" fill="#0070ff"/>
<rect x="165" y="217" width="10" height="9" fill="#0078ff"/>
<rect x="175" y="217" width="11" height="9" fill="#0034ff"/>
<rect x="186" y="217" width="11" height="9" fill="#0020ff"/>
<rect x="197" y="217" width="11" height="9" fill="#0048ff"/>
<rect x="208" y="217" width="11" height="9" fill="#00c8ff"/>
<rect x="219" y="217" width="10" height="9" fill="#0084ff"/>
<rect x="229" y="217" width="11" height="9" fill="#0048ff"/>
<rect x="240" y="217" width="11" height="9" fill="#0034ff"/>
<rect x="251" y="217" width="11" height="9" fill="#0078ff"/>
<rect x="262" y="217" width="12" height="9" fill="#0014ff"/>
<rect x="274" y="217" width="11" height="9" fill="#0064ff"/>
<rect x="285" y="217" width="11" height="9" fill="#005cff"/>
<rect x="296" y="217" width="11" height="9" fill="#00acff"/>
<rect x="307" y="217" width="11" height="9" fill="#0070ff"/>
<rect x="318" y="217" width="10" height="9" fill="#0028ff"/>
<rect x="328" y="217" width="11" height="9" fill="#003cff"/>
<rect x="339" y="217" width="22" height="9" fill="#0008ff"/>
<rect x="361" y="217" width="11" height="9" fill="#0000ff"/>
<rect x="372" y="217" width="10" height="9" fill="#0028ff"/>
<rect x="382" y="217" width="11" height="9" fill="#0000ff"/>
<rect x="393" y="217" width="12" height="9" fill="#003cff"/>
<rect x="405" y="217" width="11" height="9" fill="#0008ff"/>
<rect x="416" y="217" width="11" height="9" fill="#0000ff"/>
<rect x="427" y="217" width="11" height="9" fill="#0008ff"/>
<rect x="438" y="217" width="11" height="9" fill="#0000ff"/>
<rect x="449" y="217" width="11" height="9" fill="#0014ff"/>
<rect x="460" y="217" width="10" height="9" fill="#0020ff"/>
<rect x="470" y="217" width="22" height="9" fill="#0000ff"/>
<rect x="492" y="217" width="11" height="9" fill="#0000cd"/>
<rect x="503" y="217" width="11" height="9" fill="#0000ff"/>
<rect x="514" y="217" width="10" height="9" fill="#0000f1"/>
<rect x="524" y="217" width="13" height="9" fill="#0000bf"/>
<rect x="537" y="217" width="22" height="9" fill="#0000b6"/>
<rect x="559" y="217" width="10" height="9" fill="#0000bf"/>
<rect x="569" y="217" width="11" height="9" fill="#0000cd"/>
<rect x="580" y="217" width="22" height="9" fill="#0000c4"/>
<rect x="602" y="217" width="10" height="9" fill="#0000cd"/>
<rect x="612" y="217" width="22" height="9" fill="#0000df"/>
<rect x="634" y="217" width="11" height="9" fill="#0000f6"/>
<rect x="645" y="217" width="23" height="9" fill="#0000ff"/>
<rect x="668" y="217" width="11" height="9" fill="#005cff"/>
<rect x="679" y="217" width="10" height="9" fill="#0000f6"/>
<rect x="689" y="217" width="22" height="9" fill="#0008ff"/>
<rect x="711" y="217" width="11" height="9" fill="#0028ff"/>
<rect x="722" y="217" width="11" height="9" fill="#0000ff"/>
<rect x="733" y="217" width="11" height="9" fill="#0008ff"/>
<rect x="744" y="217" width="11" height="9" fill="#0014ff"/>
<rect x="755" y="217" width="10" height="9" fill="#0008ff"/>
<rect x="765" y="217" width="13" height="9" fill="#0020ff"/>
<rect x="131" y="226" width="23" height="11" fill="#005cff"/>
<rect x="154" y="226" width="21" height="11" fill="#0070ff"/>
<rect x="175" y="226" width="11" height="11" fill="#008cff"/>
<rect x="186" y="226" width="11" height="11" fill="#0064ff"/>
<rect x="197" y="226" width="11" height="11" fill="#0020ff"/>
<rect x="208" y="226" width="11" height="11" fill="#0084ff"/>
<rect x="219" y="226" width="10" height="11" fill="#0064ff"/>
<rect x="229" y="226" width="11" height="11" fill="#0078ff"/>
<rect x="240" y="226" width="11" height="11" fill="#0084ff"/>
<rect x="251" y="226" width="11" height="11" fill="#00a0ff"/>
<rect x="262" y="226" width="12" height="11" fill="#003cff"/>
<rect x="274" y="226" width="11" height="11" fill="#0070ff"/>
<rect x="285" y="226" width="11" height="11" fill="#0064ff"/>
<rect x="296" y="226" width="11" height="11" fill="#00a0ff"/>
<rect x="307" y="226" width="11" height="11" fill="#0084ff"/>
<rect x="318" y="226" width="10" height="11" fill="#0014ff"/>
<rect x="328" y="226" width="11" height="11" fill="#0020ff"/>
<rect x="339" y="226" width="11" height="11" fill="#0014ff"/>
<rect x="350" y="226" width="11" height="11" fill="#0008ff"/>
<rect x="361" y="226" width="11" height="11" fill="#0020ff"/>
<rect x="372" y="226" width="10" height="11" fill="#0034ff"/>
<rect x="382" y="226" width="11" height="11" fill="#003cff"/>
<rect x="393" y="226" width="12" height="11" fill="#0034ff"/>
<rect x="405" y="226" width="11" height="11" fill="#0000ff"/>
<rect x="416" y="226" width="11" height="11" fill="#0028ff"/>
<rect x="427" y="226" width="11" height="11" fill="#0000ff"/>
<rect x="438" y="226" width="11" height="11" fill="#0028ff"/>
<rect x="449" y="226" width="11" height="11" fill="#0008ff"/>
<rect x="460" y="226" width="10" height="11" fill="#0034ff"/>
<rect x="470" y="226" width="11" height="11" fill="#0000ff"/>
<rect x="481" y="226" width="11" height="11" fill="#0000df"/>
<rect x="492" y="226" width="11" height="11" fill="#0000e3"/>
<rect x="503" y="226" width="11" height="11" fill="#0000cd"/>
<rect x="514" y="226" width="10" height="11" fill="#0000ed"/>
<rect x="524" y="226" width="13" height="11" fill="#0000e3"/>
<rect x="537" y="226" width="11" height="11" fill="#0000a4"/>
<rect x="548" y="226" width="11" height="11" fill="#0000b2"/>
<rect x="559" y="226" width="10" height="11" fill="#0000b6"/>
<rect x="569" y="226" width="11" height="11" fill="#0000c4"/>
<rect x="580" y="226" width="11" height="11" fill="#0000bf"/>
<rect x="591" y="226" width="11" height="11" fill="#0000b2"/>
<rect x="602" y="226" width="10" height="11" fill="#0000a4"/>
<rect x="612" y="226" width="11" height="11" fill="#0000ed"/>
<rect x="623" y="226" width="11" height="11" fill="#0000ad"/>
<rect x="634" y="226" width="11" height="11" fill="#0000d1"/>
<rect x="645" y="226" width="11" height="11" fill="#0000ff"/>
<rect x="656" y="226" width="12" height="11" fill="#0008ff"/>
<rect x="668" y="226" width="11" height="11" fill="#0000ff"/>
<rect x="679" y="226" width="10" height="11" fill="#0000ff"/>
<rect x="689" y="226" width="12" height="11" fill="#0028ff"/>
<rect x="701" y="226" width="21" height="11" fill="#0034ff"/>
<rect x="722" y="226" width="11" height="11" fill="#0000ff"/>
<rect x="733" y="226" width="22" height="11" fill="#0014ff"/>
<rect x="755" y="226" width="10" height="11" fill="#003cff"/>
<rect x="765" y="226" width="13" height="11" fill="#0034ff"/>
<rect x="131" y="237" width="12" height="9" fill="#0098ff"/>
<rect x="143" y="237" width="22" height="9" fill="#00acff"/>
<rect x="165" y="237" width="10" height="9" fill="#00d4ff"/>
<rect x="175" y="237" width="11" height="9" fill="#008cff"/>
<rect x="186" y="237" width="11" height="9" fill="#0064ff"/>
<rect x="197" y="237" width="11" height="9" fill="#00acff"/>
<rect x="208" y="237" width="21" height="9" fill="#0084ff"/>
<rect x="229" y="237" width="11" height="9" fill="#0078ff"/>
<rect x="240" y="237" width="11" height="9" fill="#00a0ff"/>
<rect x="251" y="237" width="11" height="9" fill="#0008ff"/>
<rect x="262" y="237" width="12" height="9" fill="#008cff"/>
<rect x="274" y="237" width="22" height="9" fill="#13fce4"/>
<rect x="296" y="237" width="22" height="9" fill="#00c8ff"/>
<rect x="318" y="237" width="10" height="9" fill="#0048ff"/>
<rect x="328" y="237" width="11" height="9" fill="#0050ff"/>
<rect x="339" y="237" width="11" height="9" fill="#0020ff"/>
<rect x="350" y="237" width="11" height="9" fill="#005cff"/>
<rect x="361" y="237" width="11" height="9" fill="#0000ff"/>
<rect x="372" y="237" width="10" height="9" fill="#0064ff"/>
<rect x="382" y="237" width="11" height="9" fill="#0000ff"/>
<rect x="393" y="237" width="12" height="9" fill="#0034ff"/>
<rect x="405" y="237" width="11" height="9" fill="#0050ff"/>
<rect x="416" y="237" width="11" height="9" fill="#005cff"/>
<rect x="427" y="237" width="11" height="9" fill="#0098ff"/>
<rect x="438" y="237" width="22" height="9" fill="#0020ff"/>
<rect x="460" y="237" width="10" height="9" fill="#0028ff"/>
<rect x="470" y="237" width="11" height="9" fill="#0008ff"/>
<rect x="481" y="237" width="11" height="9" fill="#0000ff"/>
<rect x="492" y="237" width="11" height="9" fill="#0034ff"/>
<rect x="503" y="237" width="11" height="9" fill="#0000ff"/>
<rect x="514" y="237" width="10" height="9" fill="#0000bb"/>
<rect x="524" y="237" width="13" height="9" fill="#0000f1"/>
<rect x="537" y="237" width="11" height="9" fill="#0000f6"/>
<rect x="548" y="237" width="11" height="9" fill="#0000bb"/>
<rect x="559" y="237" width="10" height="9" fill="#0000ed"/>
<rect x="569" y="237" width="11" height="9" fill="#0000cd"/>
<rect x="580" y="237" width="11" height="9" fill="#0000bf"/>
<rect x="591" y="237" width="11" height="9" fill="#0000bb"/>
<rect x="602" y="237" width="10" height="9" fill="#0000b6"/>
<rect x="612" y="237" width="11" height="9" fill="#0000f6"/>
<rect x="623" y="237" width="11" height="9" fill="#0000bb"/>
<rect x="634" y="237" width="11" height="9" fill="#0000ff"/>
<rect x="645" y="237" width="23" height="9" fill="#0020ff"/>
<rect x="668" y="237" width="11" height="9" fill="#0008ff"/>
<rect x="679" y="237" width="10" height="9" fill="#0034ff"/>
<rect x="689" y="237" width="12" height="9" fill="#003cff"/>
<rect x="701" y="237" width="32" height="9" fill="#0014ff"/>
<rect x="733" y="237" width="22" height="9" fill="#0008ff"/>
<rect x="755" y="237" width="10" height="9" fill="#0014ff"/>
<rect x="765" y="237" width="13" height="9" fill="#0000ff"/>
<rect x="131" y="246" width="12" height="11" fill="#0078ff"/>
<rect x="143" y="246" width="11" height="11" fill="#0048ff"/>
<rect x="154" y="246" width="11" height="11" fill="#00c0ff"/>
<rect x="165" y="246" width="10" height="11" fill="#00a0ff"/>
<rect x="175" y="246" width="11" height="11" fill="#00c0ff"/>
<rect x="186" y="246" width="11" height="11" fill="#00d4ff"/>
<rect x="197" y="246" width="11" height="11" fill="#00e0fb"/>
<rect x="208" y="246" width="11" height="11" fill="#0084ff"/>
<rect x="219" y="246" width="10" height="11" fill="#00acff"/>
<rect x="229" y="246" width="22" height="11" fill="#0070ff"/>
<rect x="251" y="246" width="11" height="11" fill="#00c8ff"/>
<rect x="262" y="246" width="12" height="11" fill="#0cf4eb"/>
<rect x="274" y="246" width="11" height="11" fill="#00d4ff"/>
<rect x="285" y="246" width="11" height="11" fill="#33ffc4"/>
<rect x="296" y="246" width="11" height="11" fill="#00b4ff"/>
<rect x="307" y="246" width="11" height="11" fill="#00acff"/>
<rect x="318" y="246" width="10" height="11" fill="#0070ff"/>
<rect x="328" y="246" width="11" height="11" fill="#005cff"/>
<rect x="339" y="246" width="11" height="11" fill="#0000ff"/>
<rect x="350" y="246" width="11" height="11" fill="#0020ff"/>
<rect x="361" y="246" width="11" height="11" fill="#0078ff"/>
<rect x="372" y="246" width="10" height="11" fill="#0084ff"/>
<rect x="382" y="246" width="11" height="11" fill="#0034ff"/>
<rect x="393" y="246" width="12" height="11" fill="#0064ff"/>
<rect x="405" y="246" width="11" height="11" fill="#003cff"/>
<rect x="416" y="246" width="11" height="11" fill="#0050ff"/>
<rect x="427" y="246" width="11" height="11" fill="#0020ff"/>
<rect x="438" y="246" width="11" height="11" fill="#005cff"/>
<rect x="449" y="246" width="11" height="11" fill="#0064ff"/>
<rect x="460" y="246" width="10" height="11" fill="#0084ff"/>
<rect x="470" y="246" width="22" height="11" fill="#0028ff"/>
<rect x="492" y="246" width="11" height="11" fill="#0048ff"/>
<rect x="503" y="246" width="11" height="11" fill="#0000ff"/>
<rect x="514" y="246" width="10" height="11" fill="#0008ff"/>
<rect x="524" y="246" width="13" height="11" fill="#0000ff"/>
<rect x="537" y="246" width="11" height="11" fill="#0008ff"/>
<rect x="548" y="246" width="11" height="11" fill="#0000ff"/>
<rect x="559" y="246" width="10" height="11" fill="#0000d1"/>
<rect x="569" y="246" width="22" height="11" fill="#0000df"/>
<rect x="591" y="246" width="11" height="11" fill="#0000ff"/>
<rect x="602" y="246" width="10" height="11" fill="#0000c4"/>
<rect x="612" y="246" width="11" height="11" fill="#0000f6"/>
<rect x="623" y="246" width="11" height="11" fill="#0000ff"/>
<rect x="634" y="246" width="11" height="11" fill="#0020ff"/>
<rect x="645" y="246" width="11" height="11" fill="#0000ff"/>
<rect x="656" y="246" width="12" height="11" fill="#0034ff"/>
<rect x="668" y="246" width="11" height="11" fill="#0078ff"/>
<rect x="679" y="246" width="10" height="11" fill="#0070ff"/>
<rect x="689" y="246" width="12" height="11" fill="#0050ff"/>
<rect x="701" y="246" width="21" height="11" fill="#0070ff"/>
<rect x="722" y="246" width="22" height="11" fill="#0028ff"/>
<rect x="744" y="246" width="11" height="11" fill="#003cff"/>
<rect x="755" y="246" width="10" height="11" fill="#0000f6"/>
<rect x="765" y="246" width="13" height="11" fill="#0008ff"/>
<rect x="131" y="257" width="12" height="10" fill="#13fce4"/>
<rect x="143" y="257" width="11" height="10" fill="#43ffb4"/>
<rect x="154" y="257" width="11" height="10" fill="#1cffdb"/>
<rect x="165" y="257" width="10" height="10" fill="#00e0fb"/>
<rect x="175" y="257" width="11" height="10" fill="#33ffc4"/>
<rect x="186" y="257" width="11" height="10" fill="#49ffad"/>
<rect x="197" y="257" width="11" height="10" fill="#3cffba"/>
<rect x="208" y="257" width="11" height="10" fill="#0cf4eb"/>
<rect x="219" y="257" width="10" height="10" fill="#0098ff"/>
<rect x="229" y="257" width="11" height="10" fill="#0cf4eb"/>
<rect x="240" y="257" width="11" height="10" fill="#00a0ff"/>
<rect x="251" y="257" width="11" height="10" fill="#00d4ff"/>
<rect x="262" y="257" width="12" height="10" fill="#00c8ff"/>
<rect x="274" y="257" width="11" height="10" fill="#00c0ff"/>
<rect x="285" y="257" width="11" height="10" fill="#13fce4"/>
<rect x="296" y="257" width="11" height="10" fill="#00acff"/>
<rect x="307" y="257" width="11" height="10" fill="#00b4ff"/>
<rect x="318" y="257" width="10" height="10" fill="#0064ff"/>
<rect x="328" y="257" width="11" height="10" fill="#00a0ff"/>
<rect x="339" y="257" width="11" height="10" fill="#008cff"/>
<rect x="350" y="257" width="11" height="10" fill="#0078ff"/>
<rect x="361" y="257" width="11" height="10" fill="#00b4ff"/>
<rect x="372" y="257" width="10" height="10" fill="#00acff"/>
<rect x="382" y="257" width="11" height="10" fill="#0098ff"/>
<rect x="393" y="257" width="12" height="10" fill="#0084ff"/>
<rect x="405" y="257" width="11" height="10" fill="#008cff"/>
<rect x="416" y="257" width="11" height="10" fill="#00c8ff"/>
<rect x="427" y="257" width="11" height="10" fill="#00b4ff"/>
<rect x="438" y="257" width="11" height="10" fill="#0098ff"/>
<rect x="449" y="257" width="11" height="10" fill="#0048ff"/>
<rect x="460" y="257" width="10" height="10" fill="#0084ff"/>
<rect x="470" y="257" width="11" height="10" fill="#005cff"/>
<rect x="481" y="257" width="11" height="10" fill="#0070ff"/>
<rect x="492" y="257" width="11" height="10" fill="#0064ff"/>
<rect x="503" y="257" width="11" height="10" fill="#0034ff"/>
<rect x="514" y="257" width="34" height="10" fill="#0014ff"/>
<rect x="548" y="257" width="21" height="10" fill="#0048ff"/>
<rect x="569" y="257" width="11" height="10" fill="#0034ff"/>
<rect x="580" y="257" width="11" height="10" fill="#0000ff"/>
<rect x="591" y="257" width="11" height="10" fill="#0000ff"/>
<rect x="602" y="257" width="10" height="10" fill="#0000f6"/>
<rect x="612" y="257" width="11" height="10" fill="#0020ff"/>
<rect x="623" y="257" width="11" height="10" fill="#0048ff"/>
<rect x="634" y="257" width="11" height="10" fill="#0064ff"/>
<rect x="645" y="257" width="11" height="10" fill="#005cff"/>
<rect x="656" y="257" width="12" height="10" fill="#0064ff"/>
<rect x="668" y="257" width="11" height="10" fill="#0098ff"/>
<rect x="679" y="257" width="10" height="10" fill="#0078ff"/>
<rect x="689" y="257" width="12" height="10" fill="#0064ff"/>
<rect x="701" y="257" width="10" height="10" fill="#008cff"/>
<rect x="711" y="257" width="11" height="10" fill="#0078ff"/>
<rect x="722" y="257" width="11" height="10" fill="#0048ff"/>
<rect x="733" y="257" width="11" height="10" fill="#005cff"/>
<rect x="744" y="257" width="11" height="10" fill="#0028ff"/>
<rect x="755" y="257" width="10" height="10" fill="#0014ff"/>
<rect x="765" y="257" width="13" height="10" fill="#0034ff"/>
<rect x="131" y="267" width="12" height="11" fill="#00c8ff"/>
<rect x="143" y="267" width="22" height="11" fill="#13fce4"/>
<rect x="165" y="267" width="10" height="11" fill="#0ff8e7"/>
<rect x="175" y="267" width="11" height="11" fill="#13fce4"/>
<rect x="186" y="267" width="11" height="11" fill="#2cffca"/>
<rect x="197" y="267" width="22" height="11" fill="#33ffc4"/>
<rect x="219" y="267" width="10" height="11" fill="#00d4ff"/>
<rect x="229" y="267" width="11" height="11" fill="#49ffad"/>
<rect x="240" y="267" width="11" height="11" fill="#02e8f4"/>
<rect x="251" y="267" width="11" height="11" fill="#33ffc4"/>
<rect x="262" y="267" width="12" height="11" fill="#1cffdb"/>
<rect x="274" y="267" width="11" height="11" fill="#00acff"/>
<rect x="285" y="267" width="11" height="11" fill="#00c8ff"/>
<rect x="296" y="267" width="11" height="11" fill="#00c0ff"/>
<rect x="307" y="267" width="11" height="11" fill="#00e0fb"/>
<rect x="318" y="267" width="10" height="11" fill="#16ffe1"/>
<rect x="328" y="267" width="11" height="11" fill="#00acff"/>
<rect x="339" y="267" width="11" height="11" fill="#00a0ff"/>
<rect x="350" y="267" width="11" height="11" fill="#003cff"/>
<rect x="361" y="267" width="11" height="11" fill="#00b4ff"/>
<rect x="372" y="267" width="10" height="11" fill="#16ffe1"/>
<rect x="382" y="267" width="11" height="11" fill="#00e0fb"/>
<rect x="393" y="267" width="12" height="11" fill="#16ffe1"/>
<rect x="405" y="267" width="11" height="11" fill="#00c0ff"/>
<rect x="416" y="267" width="11" height="11" fill="#19ffde"/>
<rect x="427" y="267" width="11" height="11" fill="#00d4ff"/>
<rect x="438" y="267" width="11" height="11" fill="#00e0fb"/>
<rect x="449" y="267" width="11" height="11" fill="#0cf4eb"/>
<rect x="460" y="267" width="10" height="11" fill="#16ffe1"/>
<rect x="470" y="267" width="11" height="11" fill="#008cff"/>
<rect x="481" y="267" width="11" height="11" fill="#00c8ff"/>
<rect x="492" y="267" width="11" height="11" fill="#0098ff"/>
<rect x="503" y="267" width="11" height="11" fill="#005cff"/>
<rect x="514" y="267" width="10" height="11" fill="#0064ff"/>
<rect x="524" y="267" width="13" height="11" fill="#0008ff"/>
<rect x="537" y="267" width="54" height="11" fill="#0048ff"/>
<rect x="591" y="267" width="11" height="11" fill="#0000ff"/>
<rect x="602" y="267" width="10" height="11" fill="#0020ff"/>
<rect x="612" y="267" width="11" height="11" fill="#0048ff"/>
<rect x="623" y="267" width="11" height="11" fill="#0034ff"/>
<rect x="634" y="267" width="11" height="11" fill="#0078ff"/>
<rect x="645" y="267" width="11" height="11" fill="#0070ff"/>
<rect x="656" y="267" width="12" height="11" fill="#0098ff"/>
<rect x="668" y="267" width="11" height="11" fill="#005cff"/>
<rect x="679" y="267" width="10" height="11" fill="#00d4ff"/>
<rect x="689" y="267" width="12" height="11" fill="#00c8ff"/>
<rect x="701" y="267" width="10" height="11" fill="#0070ff"/>
<rect x="711" y="267" width="11" height="11" fill="#0098ff"/>
<rect x="722" y="267" width="11" height="11" fill="#0084ff"/>
<rect x="733" y="267" width="11" height="11" fill="#0070ff"/>
<rect x="744" y="267" width="11" height="11" fill="#0050ff"/>
<rect x="755" y="267" width="10" height="11" fill="#0070ff"/>
<rect x="765" y="267" width="13" height="11" fill="#0050ff"/>
<rect x="131" y="278" width="12" height="13" fill="#2cffca"/>
<rect x="143" y="278" width="22" height="13" fill="#3cffba"/>
<rect x="165" y="278" width="10" height="13" fill="#77ff80"/>
<rect x="175" y="278" width="11" height="13" fill="#87ff70"/>
<rect x="186" y="278" width="11" height="13" fill="#5dff9a"/>
<rect x="197" y="278" width="11" height="13" fill="#2cffca"/>
<rect x="208" y="278" width="21" height="13" fill="#3cffba"/>
<rect x="229" y="278" width="11" height="13" fill="#16ffe1"/>
<rect x="240" y="278" width="11" height="13" fill="#3cffba"/>
<rect x="251" y="278" width="11" height="13" fill="#16ffe1"/>
<rect x="262" y="278" width="12" height="13" fill="#2cffca"/>
<rect x="274" y="278" width="11" height="13" fill="#77ff80"/>
<rect x="285" y="278" width="11" height="13" fill="#53ffa4"/>
<rect x="296" y="278" width="11" height="13" fill="#49ffad"/>
<rect x="307" y="278" width="11" height="13" fill="#16ffe1"/>
<rect x="318" y="278" width="10" height="13" fill="#2cffca"/>
<rect x="328" y="278" width="22" height="13" fill="#3cffba"/>
<rect x="350" y="278" width="11" height="13" fill="#43ffb4"/>
<rect x="361" y="278" width="11" height="13" fill="#63ff94"/>
<rect x="372" y="278" width="10" height="13" fill="#43ffb4"/>
<rect x="382" y="278" width="11" height="13" fill="#49ffad"/>
<rect x="393" y="278" width="12" height="13" fill="#77ff80"/>
<rect x="405" y="278" width="11" height="13" fill="#63ff94"/>
<rect x="416" y="278" width="11" height="13" fill="#beff39"/>
<rect x="427" y="278" width="11" height="13" fill="#49ffad"/>
<rect x="438" y="278" width="11" height="13" fill="#53ffa4"/>
<rect x="449" y="278" width="11" height="13" fill="#63ff94"/>
<rect x="460" y="278" width="10" height="13" fill="#00e0fb"/>
<rect x="470" y="278" width="11" height="13" fill="#16ffe1"/>
<rect x="481" y="278" width="11" height="13" fill="#02e8f4"/>
<rect x="492" y="278" width="11" height="13" fill="#00e0fb"/>
<rect x="503" y="278" width="11" height="13" fill="#00c0ff"/>
<rect x="514" y="278" width="10" height="13" fill="#0078ff"/>
<rect x="524" y="278" width="13" height="13" fill="#0098ff"/>
<rect x="537" y="278" width="11" height="13" fill="#0084ff"/>
<rect x="548" y="278" width="11" height="13" fill="#0078ff"/>
<rect x="559" y="278" width="10" height="13" fill="#0098ff"/>
<rect x="569" y="278" width="11" height="13" fill="#003cff"/>
<rect x="580" y="278" width="11" height="13" fill="#00a0ff"/>
<rect x="591" y="278" width="11" height="13" fill="#00b4ff"/>
<rect x="602" y="278" width="10" height="13" fill="#0098ff"/>
<rect x="612" y="278" width="22" height="13" fill="#0078ff"/>
<rect x="634" y="278" width="11" height="13" fill="#00b4ff"/>
<rect x="645" y="278" width="11" height="13" fill="#00c0ff"/>
<rect x="656" y="278" width="12" height="13" fill="#00acff"/>
<rect x="668" y="278" width="11" height="13" fill="#00c0ff"/>
<rect x="679" y="278" width="10" height="13" fill="#3cffba"/>
<rect x="689" y="278" width="12" height="13" fill="#00d4ff"/>
<rect x="701" y="278" width="10" height="13" fill="#00b4ff"/>
<rect x="711" y="278" width="11" height="13" fill="#23ffd4"/>
<rect x="722" y="278" width="11" height="13" fill="#00b4ff"/>
<rect x="733" y="278" width="11" height="13" fill="#00acff"/>
<rect x="744" y="278" width="21" height="13" fill="#00c8ff"/>
<rect x="765" y="278" width="13" height="13" fill="#00acff"/>
<rect x="131" y="291" width="12" height="10" fill="#1cffdb"/>
<rect x="143" y="291" width="11" height="10" fill="#43ffb4"/>
<rect x="154" y="291" width="11" height="10" fill="#7dff7a"/>
<rect x="165" y="291" width="21" height="10" fill="#3cffba"/>
<rect x="186" y="291" width="11" height="10" fill="#43ffb4"/>
<rect x="197" y="291" width="11" height="10" fill="#49ffad"/>
<rect x="208" y="291" width="21" height="10" fill="#87ff70"/>
<rect x="229" y="291" width="11" height="10" fill="#19ffde"/>
<rect x="240" y="291" width="11" height="10" fill="#90ff66"/>
<rect x="251" y="291" width="11" height="10" fill="#a4ff53"/>
<rect x="262" y="291" width="12" height="10" fill="#77ff80"/>
<rect x="274" y="291" width="11" height="10" fill="#9aff5d"/>
<rect x="285" y="291" width="11" height="10" fill="#23ffd4"/>
<rect x="296" y="291" width="11" height="10" fill="#6dff8a"/>
<rect x="307" y="291" width="11" height="10" fill="#3cffba"/>
<rect x="318" y="291" width="10" height="10" fill="#43ffb4"/>
<rect x="328" y="291" width="11" height="10" fill="#b7ff40"/>
<rect x="339" y="291" width="11" height="10" fill="#77ff80"/>
<rect x="350" y="291" width="11" height="10" fill="#7dff7a"/>
<rect x="361" y="291" width="11" height="10" fill="#90ff66"/>
<rect x="372" y="291" width="21" height="10" fill="#a4ff53"/>
<rect x="393" y="291" width="12" height="10" fill="#e4ff13"/>
<rect x="405" y="291" width="11" height="10" fill="#feed00"/>
<rect x="416" y="291" width="11" height="10" fill="#b7ff40"/>
<rect x="427" y="291" width="11" height="10" fill="#a4ff53"/>
<rect x="438" y="291" width="22" height="10" fill="#77ff80"/>
<rect x="460" y="291" width="21" height="10" fill="#5dff9a"/>
<rect x="481" y="291" width="11" height="10" fill="#3cffba"/>
<rect x="492" y="291" width="11" height="10" fill="#00acff"/>
<rect x="503" y="291" width="11" height="10" fill="#00e0fb"/>
<rect x="514" y="291" width="23" height="10" fill="#0cf4eb"/>
<rect x="537" y="291" width="11" height="10" fill="#0098ff"/>
<rect x="548" y="291" width="11" height="10" fill="#09f0ee"/>
<rect x="559" y="291" width="21" height="10" fill="#00a0ff"/>
<rect x="580" y="291" width="11" height="10" fill="#00d4ff"/>
<rect x="591" y="291" width="11" height="10" fill="#09f0ee"/>
<rect x="602" y="291" width="10" height="10" fill="#00acff"/>
<rect x="612" y="291" width="11" height="10" fill="#02e8f4"/>
<rect x="623" y="291" width="11" height="10" fill="#00d4ff"/>
<rect x="634" y="291" width="11" height="10" fill="#00c8ff"/>
<rect x="645" y="291" width="11" height="10" fill="#1cffdb"/>
<rect x="656" y="291" width="12" height="10" fill="#00e4f8"/>
<rect x="668" y="291" width="11" height="10" fill="#1cffdb"/>
<rect x="679" y="291" width="10" height="10" fill="#63ff94"/>
<rect x="689" y="291" width="12" height="10" fill="#16ffe1"/>
<rect x="701" y="291" width="10" height="10" fill="#2cffca"/>
<rect x="711" y="291" width="11" height="10" fill="#23ffd4"/>
<rect x="722" y="291" width="22" height="10" fill="#33ffc4"/>
<rect x="744" y="291" width="11" height="10" fill="#2cffca"/>
<rect x="755" y="291" width="10" height="10" fill="#19ffde"/>
<rect x="765" y="291" width="13" height="10" fill="#6dff8a"/>
<rect x="131" y="301" width="12" height="13" fill="#87ff70"/>
<rect x="143" y="301" width="11" height="13" fill="#b7ff40"/>
<rect x="154" y="301" width="21" height="13" fill="#beff39"/>
<rect x="175" y="301" width="11" height="13" fill="#ffd700"/>
<rect x="186" y="301" width="11" height="13" fill="#87ff70"/>
<rect x="197" y="301" width="11" height="13" fill="#d4ff23"/>
<rect x="208" y="301" width="11" height="13" fill="#90ff66"/>
<rect x="219" y="301" width="21" height="13" fill="#eeff09"/>
<rect x="240" y="301" width="11" height="13" fill="#87ff70"/>
<rect x="251" y="301" width="11" height="13" fill="#d4ff23"/>
<rect x="262" y="301" width="12" height="13" fill="#beff39"/>
<rect x="274" y="301" width="11" height="13" fill="#d4ff23"/>
<rect x="285" y="301" width="11" height="13" fill="#ffd700"/>
<rect x="296" y="301" width="11" height="13" fill="#a4ff53"/>
<rect x="307" y="301" width="11" height="13" fill="#90ff66"/>
<rect x="318" y="301" width="10" height="13" fill="#77ff80"/>
<rect x="328" y="301" width="11" height="13" fill="#f8f500"/>
<rect x="339" y="301" width="11" height="13" fill="#6dff8a"/>
<rect x="350" y="301" width="11" height="13" fill="#ffae00"/>
<rect x="361" y="301" width="11" height="13" fill="#ff5900"/>
<rect x="372" y="301" width="10" height="13" fill="#f8f500"/>
<rect x="382" y="301" width="11" height="13" fill="#ff9f00"/>
<rect x="393" y="301" width="12" height="13" fill="#ff7700"/>
<rect x="405" y="301" width="11" height="13" fill="#ff6f00"/>
<rect x="416" y="301" width="11" height="13" fill="#ff4e00"/>
<rect x="427" y="301" width="11" height="13" fill="#caff2c"/>
<rect x="438" y="301" width="11" height="13" fill="#ffe600"/>
<rect x="449" y="301" width="11" height="13" fill="#ff9800"/>
<rect x="460" y="301" width="10" height="13" fill="#beff39"/>
<rect x="470" y="301" width="11" height="13" fill="#c1ff36"/>
<rect x="481" y="301" width="11" height="13" fill="#90ff66"/>
<rect x="492" y="301" width="11" height="13" fill="#87ff70"/>
<rect x="503" y="301" width="11" height="13" fill="#6dff8a"/>
<rect x="514" y="301" width="10" height="13" fill="#1cffdb"/>
<rect x="524" y="301" width="24" height="13" fill="#3cffba"/>
<rect x="548" y="301" width="11" height="13" fill="#5dff9a"/>
<rect x="559" y="301" width="10" height="13" fill="#7dff7a"/>
<rect x="569" y="301" width="11" height="13" fill="#adff49"/>
<rect x="580" y="301" width="11" height="13" fill="#7dff7a"/>
<rect x="591" y="301" width="11" height="13" fill="#9aff5d"/>
<rect x="602" y="301" width="10" height="13" fill="#23ffd4"/>
<rect x="612" y="301" width="11" height="13" fill="#7dff7a"/>
<rect x="623" y="301" width="11" height="13" fill="#49ffad"/>
<rect x="634" y="301" width="11" height="13" fill="#13fce4"/>
<rect x="645" y="301" width="11" height="13" fill="#77ff80"/>
<rect x="656" y="301" width="12" height="13" fill="#49ffad"/>
<rect x="668" y="301" width="11" height="13" fill="#90ff66"/>
<rect x="679" y="301" width="10" height="13" fill="#87ff70"/>
<rect x="689" y="301" width="12" height="13" fill="#6dff8a"/>
<rect x="701" y="301" width="10" height="13" fill="#9aff5d"/>
<rect x="711" y="301" width="11" height="13" fill="#43ffb4"/>
<rect x="722" y="301" width="11" height="13" fill="#49ffad"/>
<rect x="733" y="301" width="11" height="13" fill="#9aff5d"/>
<rect x="744" y="301" width="11" height="13" fill="#90ff66"/>
<rect x="755" y="301" width="10" height="13" fill="#77ff80"/>
<rect x="765" y="301" width="13" height="13" fill="#87ff70"/>
<rect x="131" y="314" width="12" height="13" fill="#c7ff30"/>
<rect x="143" y="314" width="11" height="13" fill="#f8f500"/>
<rect x="154" y="314" width="11" height="13" fill="#ffab00"/>
<rect x="165" y="314" width="10" height="13" fill="#ff9800"/>
<rect x="175" y="314" width="11" height="13" fill="#f1fc06"/>
<rect x="186" y="314" width="11" height="13" fill="#b7ff40"/>
<rect x="197" y="314" width="11" height="13" fill="#f4f802"/>
<rect x="208" y="314" width="11" height="13" fill="#d1ff26"/>
<rect x="219" y="314" width="10" height="13" fill="#b7ff40"/>
<rect x="229" y="314" width="11" height="13" fill="#ffe600"/>
<rect x="240" y="314" width="11" height="13" fill="#ffbd00"/>
<rect x="251" y="314" width="11" height="13" fill="#ff9800"/>
<rect x="262" y="314" width="12" height="13" fill="#c7ff30"/>
<rect x="274" y="314" width="11" height="13" fill="#ff4300"/>
<rect x="285" y="314" width="11" height="13" fill="#feed00"/>
<rect x="296" y="314" width="11" height="13" fill="#ffd700"/>
<rect x="307" y="314" width="11" height="13" fill="#dbff1c"/>
<rect x="318" y="314" width="10" height="13" fill="#ffab00"/>
<rect x="328" y="314" width="11" height="13" fill="#e80000"/>
<rect x="339" y="314" width="11" height="13" fill="#ed0400"/>
<rect x="350" y="314" width="11" height="13" fill="#d60000"/>
<rect x="361" y="314" width="11" height="13" fill="#ff9f00"/>
<rect x="372" y="314" width="10" height="13" fill="#ff6400"/>
<rect x="382" y="314" width="11" height="13" fill="#c80000"/>
<rect x="393" y="314" width="12" height="13" fill="#ff6f00"/>
<rect x="405" y="314" width="11" height="13" fill="#feed00"/>
<rect x="416" y="314" width="11" height="13" fill="#ffd700"/>
<rect x="427" y="314" width="11" height="13" fill="#ff9f00"/>
<rect x="438" y="314" width="11" height="13" fill="#ffbd00"/>
<rect x="449" y="314" width="11" height="13" fill="#ffa700"/>
<rect x="460" y="314" width="10" height="13" fill="#ff9800"/>
<rect x="470" y="314" width="11" height="13" fill="#feed00"/>
<rect x="481" y="314" width="11" height="13" fill="#b7ff40"/>
<rect x="492" y="314" width="11" height="13" fill="#ff8d00"/>
<rect x="503" y="314" width="11" height="13" fill="#ffc800"/>
<rect x="514" y="314" width="10" height="13" fill="#ffe200"/>
<rect x="524" y="314" width="13" height="13" fill="#dbff1c"/>
<rect x="537" y="314" width="11" height="13" fill="#d1ff26"/>
<rect x="548" y="314" width="11" height="13" fill="#a4ff53"/>
<rect x="559" y="314" width="10" height="13" fill="#eeff09"/>
<rect x="569" y="314" width="11" height="13" fill="#e1ff16"/>
<rect x="580" y="314" width="11" height="13" fill="#87ff70"/>
<rect x="591" y="314" width="11" height="13" fill="#ffd300"/>
<rect x="602" y="314" width="10" height="13" fill="#fbf100"/>
<rect x="612" y="314" width="11" height="13" fill="#f8f500"/>
<rect x="623" y="314" width="22" height="13" fill="#a4ff53"/>
<rect x="645" y="314" width="11" height="13" fill="#caff2c"/>
<rect x="656" y="314" width="12" height="13" fill="#f8f500"/>
<rect x="668" y="314" width="11" height="13" fill="#dbff1c"/>
<rect x="679" y="314" width="10" height="13" fill="#e4ff13"/>
<rect x="689" y="314" width="12" height="13" fill="#ff9800"/>
<rect x="701" y="314" width="10" height="13" fill="#f4f802"/>
<rect x="711" y="314" width="11" height="13" fill="#adff49"/>
<rect x="722" y="314" width="11" height="13" fill="#d4ff23"/>
<rect x="733" y="314" width="11" height="13" fill="#7dff7a"/>
<rect x="744" y="314" width="11" height="13" fill="#9aff5d"/>
<rect x="755" y="314" width="10" height="13" fill="#c7ff30"/>
<rect x="765" y="314" width="13" height="13" fill="#b7ff40"/>
<rect x="131" y="327" width="12" height="13.5" fill="#ffab00"/>
<rect x="143" y="327" width="11" height="13.5" fill="#ffe200"/>
<rect x="154" y="327" width="11" height="13.5" fill="#ff4e00"/>
<rect x="165" y="327" width="10" height="13.5" fill="#ffc800"/>
<rect x="175" y="327" width="11" height="13.5" fill="#ff9800"/>
<rect x="186" y="327" width="11" height="13.5" fill="#ff9f00"/>
<rect x="197" y="327" width="11" height="13.5" fill="#ff8200"/>
<rect x="208" y="327" width="11" height="13.5" fill="#caff2c"/>
<rect x="219" y="327" width="10" height="13.5" fill="#ff7700"/>
<rect x="229" y="327" width="11" height="13.5" fill="#ffc800"/>
<rect x="240" y="327" width="11" height="13.5" fill="#ffa700"/>
<rect x="251" y="327" width="11" height="13.5" fill="#ff8200"/>
<rect x="262" y="327" width="12" height="13.5" fill="#ffab00"/>
<rect x="274" y="327" width="11" height="13.5" fill="#ff7700"/>
<rect x="285" y="327" width="11" height="13.5" fill="#cd0000"/>
<rect x="296" y="327" width="11" height="13.5" fill="#ffdb00"/>
<rect x="307" y="327" width="11" height="13.5" fill="#ff3800"/>
<rect x="318" y="327" width="10" height="13.5" fill="#ff2d00"/>
<rect x="328" y="327" width="11" height="13.5" fill="#800000"/>
<rect x="339" y="327" width="11" height="13.5" fill="#ff1300"/>
<rect x="350" y="327" width="11" height="13.5" fill="#ff7700"/>
<rect x="361" y="327" width="11" height="13.5" fill="#ff2d00"/>
<rect x="372" y="327" width="10" height="13.5" fill="#ffc800"/>
<rect x="382" y="327" width="11" height="13.5" fill="#ff8d00"/>
<rect x="393" y="327" width="12" height="13.5" fill="#fbf100"/>
<rect x="405" y="327" width="11" height="13.5" fill="#9aff5d"/>
<rect x="416" y="327" width="11" height="13.5" fill="#7dff7a"/>
<rect x="427" y="327" width="11" height="13.5" fill="#ff8200"/>
<rect x="438" y="327" width="11" height="13.5" fill="#ffd300"/>
<rect x="449" y="327" width="11" height="13.5" fill="#ffc100"/>
<rect x="460" y="327" width="10" height="13.5" fill="#f4f802"/>
<rect x="470" y="327" width="11" height="13.5" fill="#ff7700"/>
<rect x="481" y="327" width="11" height="13.5" fill="#caff2c"/>
<rect x="492" y="327" width="11" height="13.5" fill="#ff9f00"/>
<rect x="503" y="327" width="11" height="13.5" fill="#d1ff26"/>
<rect x="514" y="327" width="10" height="13.5" fill="#a4ff53"/>
<rect x="524" y="327" width="13" height="13.5" fill="#77ff80"/>
<rect x="537" y="327" width="11" height="13.5" fill="#2cffca"/>
<rect x="548" y="327" width="11" height="13.5" fill="#90ff66"/>
<rect x="559" y="327" width="10" height="13.5" fill="#caff2c"/>
<rect x="569" y="327" width="11" height="13.5" fill="#ffab00"/>
<rect x="580" y="327" width="11" height="13.5" fill="#e1ff16"/>
<rect x="591" y="327" width="11" height="13.5" fill="#ffd700"/>
<rect x="602" y="327" width="10" height="13.5" fill="#c1ff36"/>
<rect x="612" y="327" width="11" height="13.5" fill="#ffc800"/>
<rect x="623" y="327" width="11" height="13.5" fill="#ff6400"/>
<rect x="634" y="327" width="11" height="13.5" fill="#ff3800"/>
<rect x="645" y="327" width="11" height="13.5" fill="#ff5d00"/>
<rect x="656" y="327" width="12" height="13.5" fill="#ffd700"/>
<rect x="668" y="327" width="11" height="13.5" fill="#ff8d00"/>
<rect x="679" y="327" width="10" height="13.5" fill="#e4ff13"/>
<rect x="689" y="327" width="12" height="13.5" fill="#ffd300"/>
<rect x="701" y="327" width="10" height="13.5" fill="#ffb900"/>
<rect x="711" y="327" width="11" height="13.5" fill="#d4ff23"/>
<rect x="722" y="327" width="11" height="13.5" fill="#ffab00"/>
<rect x="733" y="327" width="11" height="13.5" fill="#dbff1c"/>
<rect x="744" y="327" width="11" height="13.5" fill="#c1ff36"/>
<rect x="755" y="327" width="10" height="13.5" fill="#adff49"/>
<rect x="765" y="327" width="13" height="13.5" fill="#b7ff40"/>
<rect x="131" y="340.5" width="12" height="13.5" fill="#00a0ff"/>
<rect x="143" y="340.5" width="11" height="13.5" fill="#003cff"/>
<rect x="154" y="340.5" width="11" height="13.5" fill="#0034ff"/>
<rect x="165" y="340.5" width="10" height="13.5" fill="#00c8ff"/>
<rect x="175" y="340.5" width="11" height="13.5" fill="#90ff66"/>
<rect x="186" y="340.5" width="11" height="13.5" fill="#ff6f00"/>
<rect x="197" y="340.5" width="11" height="13.5" fill="#feed00"/>
<rect x="208" y="340.5" width="11" height="13.5" fill="#ff8d00"/>
<rect x="219" y="340.5" width="10" height="13.5" fill="#ff6400"/>
<rect x="229" y="340.5" width="11" height="13.5" fill="#ff5d00"/>
<rect x="240" y="340.5" width="11" height="13.5" fill="#ff6400"/>
<rect x="251" y="340.5" width="11" height="13.5" fill="#ff9800"/>
<rect x="262" y="340.5" width="12" height="13.5" fill="#ff4e00"/>
<rect x="274" y="340.5" width="11" height="13.5" fill="#800000"/>
<rect x="285" y="340.5" width="11" height="13.5" fill="#ff3800"/>
<rect x="296" y="340.5" width="11" height="13.5" fill="#ffd700"/>
<rect x="307" y="340.5" width="11" height="13.5" fill="#e80000"/>
<rect x="318" y="340.5" width="10" height="13.5" fill="#ffc800"/>
<rect x="328" y="340.5" width="11" height="13.5" fill="#87ff70"/>
<rect x="339" y="340.5" width="11" height="13.5" fill="#7dff7a"/>
<rect x="350" y="340.5" width="11" height="13.5" fill="#63ff94"/>
<rect x="361" y="340.5" width="21" height="13.5" fill="#00d4ff"/>
<rect x="382" y="340.5" width="11" height="13.5" fill="#008cff"/>
<rect x="393" y="340.5" width="12" height="13.5" fill="#00d4ff"/>
<rect x="405" y="340.5" width="11" height="13.5" fill="#005cff"/>
<rect x="416" y="340.5" width="11" height="13.5" fill="#0064ff"/>
<rect x="427" y="340.5" width="11" height="13.5" fill="#00b4ff"/>
<rect x="438" y="340.5" width="11" height="13.5" fill="#13fce4"/>
<rect x="449" y="340.5" width="11" height="13.5" fill="#ffe200"/>
<rect x="460" y="340.5" width="10" height="13.5" fill="#16ffe1"/>
<rect x="470" y="340.5" width="11" height="13.5" fill="#00c0ff"/>
<rect x="481" y="340.5" width="11" height="13.5" fill="#0cf4eb"/>
<rect x="492" y="340.5" width="11" height="13.5" fill="#d1ff26"/>
<rect x="503" y="340.5" width="11" height="13.5" fill="#ffd700"/>
<rect x="514" y="340.5" width="10" height="13.5" fill="#9aff5d"/>
<rect x="524" y="340.5" width="13" height="13.5" fill="#0cf4eb"/>
<rect x="537" y="340.5" width="11" height="13.5" fill="#02e8f4"/>
<rect x="548" y="340.5" width="11" height="13.5" fill="#00d4ff"/>
<rect x="559" y="340.5" width="10" height="13.5" fill="#02e8f4"/>
<rect x="569" y="340.5" width="11" height="13.5" fill="#0070ff"/>
<rect x="580" y="340.5" width="11" height="13.5" fill="#0050ff"/>
<rect x="591" y="340.5" width="11" height="13.5" fill="#0028ff"/>
<rect x="602" y="340.5" width="10" height="13.5" fill="#00c0ff"/>
<rect x="612" y="340.5" width="11" height="13.5" fill="#33ffc4"/>
<rect x="623" y="340.5" width="11" height="13.5" fill="#90ff66"/>
<rect x="634" y="340.5" width="11" height="13.5" fill="#ffcc00"/>
<rect x="645" y="340.5" width="11" height="13.5" fill="#920000"/>
<rect x="656" y="340.5" width="12" height="13.5" fill="#b20000"/>
<rect x="668" y="340.5" width="11" height="13.5" fill="#ff7e00"/>
<rect x="679" y="340.5" width="10" height="13.5" fill="#ff6400"/>
<rect x="689" y="340.5" width="12" height="13.5" fill="#ff8d00"/>
<rect x="701" y="340.5" width="10" height="13.5" fill="#ff6400"/>
<rect x="711" y="340.5" width="22" height="13.5" fill="#ff8200"/>
<rect x="733" y="340.5" width="11" height="13.5" fill="#ff8d00"/>
<rect x="744" y="340.5" width="11" height="13.5" fill="#beff39"/>
<rect x="755" y="340.5" width="10" height="13.5" fill="#ff9c00"/>
<rect x="765" y="340.5" width="13" height="13.5" fill="#f8f500"/>
<rect x="131" y="354" width="12" height="14" fill="#0064ff"/>
<rect x="143" y="354" width="11" height="14" fill="#0000c4"/>
<rect x="154" y="354" width="32" height="14" fill="#0028ff"/>
<rect x="186" y="354" width="11" height="14" fill="#005cff"/>
<rect x="197" y="354" width="11" height="14" fill="#00d4ff"/>
<rect x="208" y="354" width="11" height="14" fill="#77ff80"/>
<rect x="219" y="354" width="10" height="14" fill="#ffc800"/>
<rect x="229" y="354" width="11" height="14" fill="#ff8200"/>
<rect x="240" y="354" width="11" height="14" fill="#ff6400"/>
<rect x="251" y="354" width="11" height="14" fill="#ff2d00"/>
<rect x="262" y="354" width="12" height="14" fill="#ff3800"/>
<rect x="274" y="354" width="11" height="14" fill="#f10800"/>
<rect x="285" y="354" width="11" height="14" fill="#ff6f00"/>
<rect x="296" y="354" width="11" height="14" fill="#53ffa4"/>
<rect x="307" y="354" width="11" height="14" fill="#00d4ff"/>
<rect x="318" y="354" width="10" height="14" fill="#0050ff"/>
<rect x="328" y="354" width="11" height="14" fill="#0034ff"/>
<rect x="339" y="354" width="11" height="14" fill="#0020ff"/>
<rect x="350" y="354" width="22" height="14" fill="#0000ff"/>
<rect x="372" y="354" width="10" height="14" fill="#0000cd"/>
<rect x="382" y="354" width="11" height="14" fill="#0000bf"/>
<rect x="393" y="354" width="12" height="14" fill="#0000ff"/>
<rect x="405" y="354" width="11" height="14" fill="#0000b6"/>
<rect x="416" y="354" width="11" height="14" fill="#0000b2"/>
<rect x="427" y="354" width="11" height="14" fill="#0000ff"/>
<rect x="438" y="354" width="11" height="14" fill="#0008ff"/>
<rect x="449" y="354" width="11" height="14" fill="#0034ff"/>
<rect x="460" y="354" width="10" height="14" fill="#0020ff"/>
<rect x="470" y="354" width="11" height="14" fill="#0008ff"/>
<rect x="481" y="354" width="11" height="14" fill="#0050ff"/>
<rect x="492" y="354" width="11" height="14" fill="#0020ff"/>
<rect x="503" y="354" width="11" height="14" fill="#0028ff"/>
<rect x="514" y="354" width="10" height="14" fill="#0014ff"/>
<rect x="524" y="354" width="13" height="14" fill="#0000c4"/>
<rect x="537" y="354" width="11" height="14" fill="#0000a8"/>
<rect x="548" y="354" width="11" height="14" fill="#0000bb"/>
<rect x="559" y="354" width="10" height="14" fill="#0000df"/>
<rect x="569" y="354" width="11" height="14" fill="#0000bb"/>
<rect x="580" y="354" width="11" height="14" fill="#0000cd"/>
<rect x="591" y="354" width="11" height="14" fill="#0000c4"/>
<rect x="602" y="354" width="21" height="14" fill="#0000df"/>
<rect x="623" y="354" width="11" height="14" fill="#0000f1"/>
<rect x="634" y="354" width="11" height="14" fill="#0084ff"/>
<rect x="645" y="354" width="11" height="14" fill="#00acff"/>
<rect x="656" y="354" width="12" height="14" fill="#caff2c"/>
<rect x="668" y="354" width="11" height="14" fill="#ff7e00"/>
<rect x="679" y="354" width="10" height="14" fill="#ff8d00"/>
<rect x="689" y="354" width="22" height="14" fill="#ff9100"/>
<rect x="711" y="354" width="11" height="14" fill="#c80000"/>
<rect x="722" y="354" width="11" height="14" fill="#ff9800"/>
<rect x="733" y="354" width="11" height="14" fill="#ff8d00"/>
<rect x="744" y="354" width="11" height="14" fill="#eeff09"/>
<rect x="755" y="354" width="23" height="14" fill="#ffd300"/>
<rect x="131" y="368" width="12" height="16" fill="#0000bb"/>
<rect x="143" y="368" width="11" height="16" fill="#0000b2"/>
<rect x="154" y="368" width="11" height="16" fill="#00009b"/>
<rect x="165" y="368" width="10" height="16" fill="#0000b2"/>
<rect x="175" y="368" width="11" height="16" fill="#0000a8"/>
<rect x="186" y="368" width="11" height="16" fill="#0034ff"/>
<rect x="197" y="368" width="11" height="16" fill="#0028ff"/>
<rect x="208" y="368" width="11" height="16" fill="#0070ff"/>
<rect x="219" y="368" width="10" height="16" fill="#003cff"/>
<rect x="229" y="368" width="11" height="16" fill="#00b4ff"/>
<rect x="240" y="368" width="11" height="16" fill="#90ff66"/>
<rect x="251" y="368" width="11" height="16" fill="#ff9800"/>
<rect x="262" y="368" width="12" height="16" fill="#ffa700"/>
<rect x="274" y="368" width="11" height="16" fill="#90ff66"/>
<rect x="285" y="368" width="22" height="16" fill="#0008ff"/>
<rect x="307" y="368" width="11" height="16" fill="#0000c4"/>
<rect x="318" y="368" width="10" height="16" fill="#0000b6"/>
<rect x="328" y="368" width="11" height="16" fill="#0000b2"/>
<rect x="339" y="368" width="11" height="16" fill="#0000a4"/>
<rect x="350" y="368" width="11" height="16" fill="#0000b2"/>
<rect x="361" y="368" width="11" height="16" fill="#00009b"/>
<rect x="372" y="368" width="10" height="16" fill="#000092"/>
<rect x="382" y="368" width="11" height="16" fill="#0000b6"/>
<rect x="393" y="368" width="34" height="16" fill="#00009f"/>
<rect x="427" y="368" width="11" height="16" fill="#0000a4"/>
<rect x="438" y="368" width="11" height="16" fill="#0000a4"/>
<rect x="449" y="368" width="11" height="16" fill="#00009f"/>
<rect x="460" y="368" width="10" height="16" fill="#0000b2"/>
<rect x="470" y="368" width="11" height="16" fill="#0000f1"/>
<rect x="481" y="368" width="11" height="16" fill="#0000ad"/>
<rect x="492" y="368" width="22" height="16" fill="#0000b6"/>
<rect x="514" y="368" width="10" height="16" fill="#00009f"/>
<rect x="524" y="368" width="13" height="16" fill="#00009b"/>
<rect x="537" y="368" width="11" height="16" fill="#000092"/>
<rect x="548" y="368" width="21" height="16" fill="#000092"/>
<rect x="569" y="368" width="11" height="16" fill="#0000a4"/>
<rect x="580" y="368" width="11" height="16" fill="#0000a4"/>
<rect x="591" y="368" width="11" height="16" fill="#00009b"/>
<rect x="602" y="368" width="10" height="16" fill="#000092"/>
<rect x="612" y="368" width="11" height="16" fill="#0000ad"/>
<rect x="623" y="368" width="11" height="16" fill="#0000f1"/>
<rect x="634" y="368" width="11" height="16" fill="#0070ff"/>
<rect x="645" y="368" width="11" height="16" fill="#00c0ff"/>
<rect x="656" y="368" width="12" height="16" fill="#16ffe1"/>
<rect x="668" y="368" width="11" height="16" fill="#7dff7a"/>
<rect x="679" y="368" width="22" height="16" fill="#eeff09"/>
<rect x="701" y="368" width="10" height="16" fill="#ff5900"/>
<rect x="711" y="368" width="11" height="16" fill="#ff8600"/>
<rect x="722" y="368" width="11" height="16" fill="#ff2d00"/>
<rect x="733" y="368" width="11" height="16" fill="#ffc800"/>
<rect x="744" y="368" width="11" height="16" fill="#ff6400"/>
<rect x="755" y="368" width="10" height="16" fill="#feed00"/>
<rect x="765" y="368" width="13" height="16" fill="#fbf100"/>
<rect x="131" y="384" width="23" height="16" fill="#000084"/>
<rect x="154" y="384" width="11" height="16" fill="#ffffff"/>
<rect x="165" y="384" width="10" height="16" fill="#000084"/>
<rect x="175" y="384" width="11" height="16" fill="#000080"/>
<rect x="186" y="384" width="11" height="16" fill="#000092"/>
<rect x="197" y="384" width="11" height="16" fill="#00008d"/>
<rect x="208" y="384" width="11" height="16" fill="#0000f1"/>
<rect x="219" y="384" width="10" height="16" fill="#0070ff"/>
<rect x="229" y="384" width="11" height="16" fill="#09f0ee"/>
<rect x="240" y="384" width="11" height="16" fill="#00b4ff"/>
<rect x="251" y="384" width="11" height="16" fill="#0098ff"/>
<rect x="262" y="384" width="12" height="16" fill="#0070ff"/>
<rect x="274" y="384" width="11" height="16" fill="#00c0ff"/>
<rect x="285" y="384" width="11" height="16" fill="#0000a8"/>
<rect x="296" y="384" width="11" height="16" fill="#0000a4"/>
<rect x="307" y="384" width="11" height="16" fill="#000092"/>
<rect x="318" y="384" width="10" height="16" fill="#00009b"/>
<rect x="328" y="384" width="11" height="16" fill="#000092"/>
<rect x="339" y="384" width="11" height="16" fill="#000089"/>
<rect x="350" y="384" width="11" height="16" fill="#00008d"/>
<rect x="361" y="384" width="66" height="16" fill="#000089"/>
<rect x="427" y="384" width="11" height="16" fill="#00008d"/>
<rect x="438" y="384" width="11" height="16" fill="#000089"/>
<rect x="449" y="384" width="11" height="16" fill="#00008d"/>
<rect x="460" y="384" width="10" height="16" fill="#000089"/>
<rect x="470" y="384" width="33" height="16" fill="#00008d"/>
<rect x="503" y="384" width="11" height="16" fill="#000092"/>
<rect x="514" y="384" width="10" height="16" fill="#ffffff"/>
<rect x="524" y="384" width="13" height="16" fill="#ffffff"/>
<rect x="537" y="384" width="32" height="16" fill="#000089"/>
<rect x="569" y="384" width="11" height="16" fill="#ffffff"/>
<rect x="580" y="384" width="11" height="16" fill="#ffffff"/>
<rect x="591" y="384" width="11" height="16" fill="#ffffff"/>
<rect x="602" y="384" width="10" height="16" fill="#ffffff"/>
<rect x="612" y="384" width="11" height="16" fill="#ffffff"/>
<rect x="623" y="384" width="22" height="16" fill="#000092"/>
<rect x="645" y="384" width="11" height="16" fill="#0000d1"/>
<rect x="656" y="384" width="12" height="16" fill="#0000f1"/>
<rect x="668" y="384" width="11" height="16" fill="#003cff"/>
<rect x="679" y="384" width="10" height="16" fill="#00e0fb"/>
<rect x="689" y="384" width="12" height="16" fill="#0084ff"/>
<rect x="701" y="384" width="10" height="16" fill="#008cff"/>
<rect x="711" y="384" width="11" height="16" fill="#33ffc4"/>
<rect x="722" y="384" width="11" height="16" fill="#ffab00"/>
<rect x="733" y="384" width="11" height="16" fill="#ff5200"/>
<rect x="744" y="384" width="11" height="16" fill="#ff4e00"/>
<rect x="755" y="384" width="10" height="16" fill="#ff5900"/>
<rect x="765" y="384" width="13" height="16" fill="#ffd300"/>
</g>

<g stroke="#000" stroke-width="1.1" fill="none">
<line x1="184.5" y1="100" x2="184.5" y2="400"/>
<line x1="265.5" y1="100" x2="265.5" y2="400"/>
<line x1="346.5" y1="100" x2="346.5" y2="400"/>
<line x1="427.4" y1="100" x2="427.4" y2="400"/>
<line x1="508.4" y1="100" x2="508.4" y2="400"/>
<line x1="589.3" y1="100" x2="589.3" y2="400"/>
<line x1="670.3" y1="100" x2="670.3" y2="400"/>
<line x1="750.6" y1="100" x2="750.6" y2="400"/>
<line x1="131" y1="176.45" x2="777.7" y2="176.45"/>
<line x1="131" y1="271.35" x2="777.7" y2="271.35"/>
</g>
<g fill="none" stroke="#000" stroke-width="2" stroke-linejoin="round" stroke-linecap="round">
<path d="M132.8 346.7 L135.6 345.0 L138.9 343.0 L142.2 341.7 L146.7 341.1 L150.6 340.2 L153.9 340.3 L157.8 341.1 L160.6 343.0 L163.3 346.1 L165.6 347.8 L168.3 348.1 L170.0 350.0 L168.9 352.2 L166.1 353.3 L166.7 355.6 L168.9 356.7 L171.7 355.6 L174.4 356.7 L176.7 358.9 L178.9 361.1 L182.2 361.7 L184.4 360.6 L186.7 358.9 L188.9 357.2 L191.1 356.7 L192.8 356.1 L193.3 358.9 L193.9 361.1 L195.6 363.3 L198.3 365.0 L200.0 363.3 L201.1 361.7 L203.3 361.1 L205.6 362.2 L207.8 363.7 L211.1 364.8 L215.0 364.1 L216.7 365.6 L220.0 366.7 L224.4 367.4 L230.0 368.1 L232.2 367.2 L234.4 365.9 L236.7 366.4 L237.2 370.0 L238.3 373.9 L240.6 378.3 L242.8 379.8 L246.1 380.6 L249.4 382.8 L252.8 385.6 L255.6 388.3 L257.2 391.1 L258.3 393.9 L258.3 395.6 L260.6 395.6 L262.8 393.9 L264.4 391.1 L266.1 388.9 L268.3 387.8 L270.0 388.3 L268.3 390.6 L269.4 392.8 L271.7 392.8 L273.3 391.1 L272.8 388.9 L274.4 387.2 L275.6 385.3 L277.2 386.1 L279.4 384.4 L280.6 382.2 L281.1 379.4 L282.2 377.2 L283.9 375.0 L285.6 372.8 L288.3 370.6 L292.2 368.9 L296.7 367.6 L300.0 366.1 L301.1 362.8 L302.8 360.0 L304.4 357.8 L305.6 353.9 L305.6 351.1 L303.3 348.3 L301.1 346.1 L300.2 342.8 L301.1 340.0 L302.4 338.9 L303.9 340.6 L305.6 343.3 L307.8 346.1 L310.6 348.3 L312.2 349.4 L313.9 347.8 L316.7 347.8 L319.1 348.9 L321.1 346.7 L323.3 345.6 L326.1 344.4 L328.9 342.8 L332.2 342.2 L336.1 342.6 L338.3 344.4 L339.4 347.8 L341.1 351.1 L342.8 353.3 L345.0 353.0 L347.8 352.2 L350.6 350.6 L353.3 349.4 L356.7 348.7 L359.4 350.0 L362.2 350.0 L365.6 349.2 L368.3 349.4 L370.0 350.3 L371.7 348.3 L372.8 345.6 L375.6 344.4 L376.1 340.6 L376.1 335.0 L376.7 331.1 L378.3 329.7 L380.6 329.7 L383.3 331.1 L385.6 333.9 L387.8 337.2 L390.0 339.4 L392.2 339.4 L395.0 339.2 L397.2 340.6 L399.4 338.3 L401.7 336.7 L403.3 334.1 L405.6 334.1 L407.8 336.1 L410.0 338.3 L412.2 338.9 L414.4 337.2 L415.6 333.9 L415.6 331.1 L417.2 331.7 L418.9 333.7 L421.7 333.9 L424.4 335.0 L426.1 337.2 L427.2 340.6 L428.3 343.3 L430.6 345.0 L434.4 346.3 L438.3 347.8 L442.2 349.7 L445.0 351.7 L446.7 354.4 L448.3 354.8 L450.0 352.8 L451.7 350.8 L454.4 350.0 L456.7 348.3 L457.8 346.1 L456.1 344.8 L458.3 343.7 L460.6 341.7 L463.3 340.3 L466.7 339.7 L470.0 338.9 L471.7 338.3 L473.3 340.0 L475.0 342.2 L477.8 344.4 L478.9 347.2 L477.8 348.9 L480.6 347.8 L483.9 346.7 L486.7 347.2 L488.9 349.1 L490.6 351.7 L492.2 353.9 L495.0 355.3 L498.3 355.3 L500.6 353.9 L503.9 354.2 L507.2 353.9 L510.6 353.3 L513.3 352.8 L515.0 350.6 L516.1 348.3 L514.4 346.1 L513.0 343.9 L513.7 341.1 L514.4 337.8 L515.9 337.8 L516.7 340.6 L517.8 343.3 L519.4 346.1 L521.1 348.3 L522.8 351.1 L525.0 352.4 L527.8 351.7 L529.2 349.8 L527.2 348.3 L525.9 346.7 L527.2 344.4 L530.6 343.6 L534.4 344.2 L538.3 345.0 L542.2 345.8 L544.4 347.8 L546.7 350.0 L548.3 352.8 L550.0 355.3 L552.8 356.1 L555.0 355.6 L557.2 355.2 L560.6 354.8 L561.7 352.2 L561.9 348.3 L561.4 345.0 L559.2 342.8 L560.0 341.1 L562.8 342.6 L566.7 343.3 L570.6 344.4 L573.9 344.8 L577.2 344.1 L580.6 342.8 L583.3 343.3 L585.6 343.9 L586.7 341.7 L586.3 338.3 L585.9 335.0 L586.7 333.0 L588.6 333.0 L590.3 335.0 L590.8 338.3 L590.6 341.7 L592.8 343.3 L595.6 345.6 L599.4 346.7 L602.8 347.4 L606.1 348.6 L609.4 349.2 L612.8 350.0 L615.0 350.8 L616.1 347.8 L617.0 347.2 L616.7 350.0 L618.3 351.9 L621.7 352.6 L625.0 353.3 L628.3 354.8 L631.1 354.1 L633.9 353.3 L636.1 354.8 L638.3 356.1 L641.7 355.6 L645.0 355.2 L645.6 353.3 L648.9 353.0 L651.7 354.4 L652.2 357.2 L650.6 359.4 L647.8 361.1 L645.0 362.8 L643.3 363.9 L646.1 363.3 L648.3 364.4 L650.6 367.2 L653.3 368.6 L656.7 367.2 L660.0 366.7 L661.7 368.9 L661.9 372.8 L661.1 374.8 L658.9 375.0 L662.2 375.9 L664.4 377.2 L666.7 374.8 L669.4 375.6 L672.2 375.2 L675.0 374.8 L676.7 376.7 L679.4 377.8 L682.8 376.7 L686.1 375.6 L689.4 374.8 L691.7 376.7 L693.9 378.9 L696.1 381.7 L698.3 383.9 L701.7 384.4 L705.0 385.6 L707.2 383.9 L708.9 385.0 L710.6 387.2 L713.9 388.3 L717.2 389.4 L720.0 390.6 L722.8 392.8 L725.0 395.6 L727.2 398.1"/>
</g>
<g fill="none" stroke="#000" stroke-width="2.9" stroke-linejoin="round" stroke-linecap="round">
<path d="M640.2 102.6 L640.8 105.4 L641.2 107.8 L642.0 111.0 L643.0 114.6 L644.4 118.2 L646.0 122.2 L648.0 125.0 L650.4 126.4 L652.8 126.4 L654.8 125.0 L656.4 123.0 L658.0 121.4 L659.4 119.0 L660.2 115.8 L660.6 111.8 L661.0 107.8 L661.0 104.6 L660.4 102.6"/>
<path d="M642.0 104.2 L644.4 106.0 L647.2 107.6 L650.0 108.8 L652.8 108.6 L655.2 107.4 L657.2 106.0 L659.2 104.4"/>
<path d="M638.0 102.4 L640.4 103.0"/>
<path d="M656.8 102.6 L658.8 103.8 L661.6 103.0"/>
<path d="M654.8 122.2 L657.6 122.6 L656.4 120.6"/>
<path d="M776.5 125.8 L773.0 127.5 L769.5 129.0 L767.0 131.5 L764.5 134.5 L762.0 137.5 L760.0 140.5 L758.5 144.0 L759.5 145.5 L762.5 146.2 L765.5 147.0 L768.5 147.2 L772.0 148.0 L776.5 149.2"/>
</g>
<g fill="#000">
<ellipse cx="759.3" cy="160.0" rx="1.6" ry="1.9"/>
<polygon points="764.0,148.0 770.0,147.0 775.0,148.5 776.5,150.0 772.0,151.5 770.0,153.0 769.0,155.0 765.0,155.8 762.5,155.0 763.2,152.5 764.5,150.5"/>
<ellipse cx="133.5" cy="146.3" rx="1.5" ry="2.4"/>
<ellipse cx="141.8" cy="147.8" rx="2.6" ry="1.6"/>
<polygon points="230.4,165.0 233.0,163.6 236.0,164.6 237.4,167.2 240.0,168.0 242.2,169.6 242.2,173.0 240.2,174.6 236.4,174.2 234.0,175.2 231.0,174.2 230.4,171.0 231.4,168.0"/>
<ellipse cx="252.6" cy="203.2" rx="1.3" ry="1.2"/>
<ellipse cx="257.5" cy="203.4" rx="2.6" ry="1.8"/>
<ellipse cx="717.8" cy="217.2" rx="1.7" ry="2.6"/>
<ellipse cx="717.6" cy="221.6" rx="1.2" ry="0.8"/>
<ellipse cx="756.9" cy="182.4" rx="2.8" ry="2.6"/>
<ellipse cx="773.3" cy="198.5" rx="2.2" ry="1.8"/>
<ellipse cx="359.4" cy="338.9" rx="2.0" ry="1.7"/>
<ellipse cx="427.6" cy="330.3" rx="1.2" ry="1.2"/>
<ellipse cx="134.2" cy="355.6" rx="1.9" ry="3.3"/>
<ellipse cx="736.0" cy="346.3" rx="1.5" ry="2.0"/>
<ellipse cx="738.5" cy="349.5" rx="1.4" ry="1.8"/>
<ellipse cx="741.5" cy="353.2" rx="1.6" ry="2.2"/>
<ellipse cx="749.4" cy="362.0" rx="1.8" ry="2.8"/>
<ellipse cx="713.0" cy="383.6" rx="1.0" ry="1.0"/>
<ellipse cx="665.5" cy="376.5" rx="1.0" ry="1.0"/>
<ellipse cx="671.2" cy="342.8" rx="1.1" ry="1.1"/>
</g>
<rect x="131.05" y="100.1" width="646.75" height="299.9" fill="none" stroke="#000" stroke-width="3.8"/>
<g stroke="#fff" fill="none">
<line x1="184.2" y1="100.15" x2="265.2" y2="100.15" stroke-width="2.2"/>
<line x1="184.2" y1="399.9" x2="265.2" y2="399.9" stroke-width="2"/>
<line x1="346.2" y1="100.15" x2="427.1" y2="100.15" stroke-width="2.2"/>
<line x1="346.2" y1="399.9" x2="427.1" y2="399.9" stroke-width="2"/>
<line x1="508.1" y1="100.15" x2="589" y2="100.15" stroke-width="2.2"/>
<line x1="508.1" y1="399.9" x2="589" y2="399.9" stroke-width="2"/>
<line x1="670" y1="100.15" x2="750.3" y2="100.15" stroke-width="2.2"/>
<line x1="670" y1="399.9" x2="750.3" y2="399.9" stroke-width="2"/>
<line x1="131" y1="176.25" x2="131" y2="271.15" stroke-width="2"/>
<line x1="777.6" y1="176.25" x2="777.6" y2="271.15" stroke-width="2"/>
</g>
<text x="135" y="84.8">All Years, High Nd Quartile Locations (115860)</text>
<text x="122.4" y="105.6" text-anchor="end">40<tspan class="deg" dx="-0.9" dy="0.5">°</tspan><tspan dx="-0.8" dy="-0.5">S</tspan></text>
<text x="122.4" y="181.6" text-anchor="end">50<tspan class="deg" dx="-0.9" dy="0.5">°</tspan><tspan dx="-0.8" dy="-0.5">S</tspan></text>
<text x="122.4" y="276.6" text-anchor="end">60<tspan class="deg" dx="-0.9" dy="0.5">°</tspan><tspan dx="-0.8" dy="-0.5">S</tspan></text>
<text x="122.4" y="405.6" text-anchor="end">70<tspan class="deg" dx="-0.9" dy="0.5">°</tspan><tspan dx="-0.8" dy="-0.5">S</tspan></text>
<text transform="translate(190.1,408.7) rotate(-90)" text-anchor="end">60<tspan class="deg" dx="-0.9" dy="0.5">°</tspan><tspan dx="-0.8" dy="-0.5">E</tspan></text>
<text transform="translate(271.1,408.7) rotate(-90)" text-anchor="end">75<tspan class="deg" dx="-0.9" dy="0.5">°</tspan><tspan dx="-0.8" dy="-0.5">E</tspan></text>
<text transform="translate(352.1,408.7) rotate(-90)" text-anchor="end">90<tspan class="deg" dx="-0.9" dy="0.5">°</tspan><tspan dx="-0.8" dy="-0.5">E</tspan></text>
<text transform="translate(433,411) rotate(-90)" text-anchor="end">105<tspan class="deg" dx="-0.9" dy="0.5">°</tspan><tspan dx="-0.8" dy="-0.5">E</tspan></text>
<text transform="translate(514,411) rotate(-90)" text-anchor="end">120<tspan class="deg" dx="-0.9" dy="0.5">°</tspan><tspan dx="-0.8" dy="-0.5">E</tspan></text>
<text transform="translate(594.9,411) rotate(-90)" text-anchor="end">135<tspan class="deg" dx="-0.9" dy="0.5">°</tspan><tspan dx="-0.8" dy="-0.5">E</tspan></text>
<text transform="translate(675.9,411) rotate(-90)" text-anchor="end">150<tspan class="deg" dx="-0.9" dy="0.5">°</tspan><tspan dx="-0.8" dy="-0.5">E</tspan></text>
<text transform="translate(756.2,411) rotate(-90)" text-anchor="end">165<tspan class="deg" dx="-0.9" dy="0.5">°</tspan><tspan dx="-0.8" dy="-0.5">E</tspan></text>
<defs><linearGradient id="jet" x1="0" y1="1" x2="0" y2="0">
<stop offset="0.0000" stop-color="#000080"/>
<stop offset="0.0156" stop-color="#000092"/>
<stop offset="0.0312" stop-color="#0000a4"/>
<stop offset="0.0469" stop-color="#0000b6"/>
<stop offset="0.0625" stop-color="#0000c8"/>
<stop offset="0.0781" stop-color="#0000da"/>
<stop offset="0.0938" stop-color="#0000ed"/>
<stop offset="0.1094" stop-color="#0000ff"/>
<stop offset="0.1250" stop-color="#0000ff"/>
<stop offset="0.1406" stop-color="#0010ff"/>
<stop offset="0.1562" stop-color="#0020ff"/>
<stop offset="0.1719" stop-color="#0030ff"/>
<stop offset="0.1875" stop-color="#0040ff"/>
<stop offset="0.2031" stop-color="#0050ff"/>
<stop offset="0.2188" stop-color="#0060ff"/>
<stop offset="0.2344" stop-color="#0070ff"/>
<stop offset="0.2500" stop-color="#0080ff"/>
<stop offset="0.2656" stop-color="#0090ff"/>
<stop offset="0.2812" stop-color="#00a0ff"/>
<stop offset="0.2969" stop-color="#00b0ff"/>
<stop offset="0.3125" stop-color="#00c0ff"/>
<stop offset="0.3281" stop-color="#00d0ff"/>
<stop offset="0.3438" stop-color="#00e0fb"/>
<stop offset="0.3594" stop-color="#09f0ee"/>
<stop offset="0.3750" stop-color="#16ffe1"/>
<stop offset="0.3906" stop-color="#23ffd4"/>
<stop offset="0.4062" stop-color="#30ffc7"/>
<stop offset="0.4219" stop-color="#3cffba"/>
<stop offset="0.4375" stop-color="#49ffad"/>
<stop offset="0.4531" stop-color="#56ffa0"/>
<stop offset="0.4688" stop-color="#63ff94"/>
<stop offset="0.4844" stop-color="#70ff87"/>
<stop offset="0.5000" stop-color="#7dff7a"/>
<stop offset="0.5156" stop-color="#8aff6d"/>
<stop offset="0.5312" stop-color="#97ff60"/>
<stop offset="0.5469" stop-color="#a4ff53"/>
<stop offset="0.5625" stop-color="#b1ff46"/>
<stop offset="0.5781" stop-color="#beff39"/>
<stop offset="0.5938" stop-color="#caff2c"/>
<stop offset="0.6094" stop-color="#d7ff1f"/>
<stop offset="0.6250" stop-color="#e4ff13"/>
<stop offset="0.6406" stop-color="#f1fc06"/>
<stop offset="0.6562" stop-color="#feed00"/>
<stop offset="0.6719" stop-color="#ffde00"/>
<stop offset="0.6875" stop-color="#ffd000"/>
<stop offset="0.7031" stop-color="#ffc100"/>
<stop offset="0.7188" stop-color="#ffb200"/>
<stop offset="0.7344" stop-color="#ffa300"/>
<stop offset="0.7500" stop-color="#ff9400"/>
<stop offset="0.7656" stop-color="#ff8600"/>
<stop offset="0.7812" stop-color="#ff7700"/>
<stop offset="0.7969" stop-color="#ff6800"/>
<stop offset="0.8125" stop-color="#ff5900"/>
<stop offset="0.8281" stop-color="#ff4a00"/>
<stop offset="0.8438" stop-color="#ff3b00"/>
<stop offset="0.8594" stop-color="#ff2d00"/>
<stop offset="0.8750" stop-color="#ff1e00"/>
<stop offset="0.8906" stop-color="#fa0f00"/>
<stop offset="0.9062" stop-color="#e80000"/>
<stop offset="0.9219" stop-color="#d60000"/>
<stop offset="0.9375" stop-color="#c40000"/>
<stop offset="0.9531" stop-color="#b20000"/>
<stop offset="0.9688" stop-color="#9f0000"/>
<stop offset="0.9844" stop-color="#8d0000"/>
<stop offset="1.0000" stop-color="#800000"/>
</linearGradient></defs>
<rect x="809.3" y="100" width="9.4" height="300" fill="url(#jet)" stroke="#000" stroke-width="1.07"/>
<g stroke="#000" fill="none">
<line x1="818.7" y1="400.00" x2="821.3" y2="400.00" stroke-width="1.07"/>
<line x1="818.7" y1="388.29" x2="820.1" y2="388.29" stroke-width="0.8"/>
<line x1="818.7" y1="376.58" x2="820.1" y2="376.58" stroke-width="0.8"/>
<line x1="818.7" y1="364.87" x2="820.1" y2="364.87" stroke-width="0.8"/>
<line x1="818.7" y1="353.16" x2="820.1" y2="353.16" stroke-width="0.8"/>
<line x1="818.7" y1="341.45" x2="821.3" y2="341.45" stroke-width="1.07"/>
<line x1="818.7" y1="329.74" x2="820.1" y2="329.74" stroke-width="0.8"/>
<line x1="818.7" y1="318.03" x2="820.1" y2="318.03" stroke-width="0.8"/>
<line x1="818.7" y1="306.32" x2="820.1" y2="306.32" stroke-width="0.8"/>
<line x1="818.7" y1="294.61" x2="820.1" y2="294.61" stroke-width="0.8"/>
<line x1="818.7" y1="282.90" x2="821.3" y2="282.90" stroke-width="1.07"/>
<line x1="818.7" y1="271.19" x2="820.1" y2="271.19" stroke-width="0.8"/>
<line x1="818.7" y1="259.48" x2="820.1" y2="259.48" stroke-width="0.8"/>
<line x1="818.7" y1="247.78" x2="820.1" y2="247.78" stroke-width="0.8"/>
<line x1="818.7" y1="236.07" x2="820.1" y2="236.07" stroke-width="0.8"/>
<line x1="818.7" y1="224.36" x2="821.3" y2="224.36" stroke-width="1.07"/>
<line x1="818.7" y1="212.65" x2="820.1" y2="212.65" stroke-width="0.8"/>
<line x1="818.7" y1="200.94" x2="820.1" y2="200.94" stroke-width="0.8"/>
<line x1="818.7" y1="189.23" x2="820.1" y2="189.23" stroke-width="0.8"/>
<line x1="818.7" y1="177.52" x2="820.1" y2="177.52" stroke-width="0.8"/>
<line x1="818.7" y1="165.81" x2="821.3" y2="165.81" stroke-width="1.07"/>
<line x1="818.7" y1="154.10" x2="820.1" y2="154.10" stroke-width="0.8"/>
<line x1="818.7" y1="142.39" x2="820.1" y2="142.39" stroke-width="0.8"/>
<line x1="818.7" y1="130.68" x2="820.1" y2="130.68" stroke-width="0.8"/>
<line x1="818.7" y1="118.97" x2="820.1" y2="118.97" stroke-width="0.8"/>
<line x1="818.7" y1="107.26" x2="821.3" y2="107.26" stroke-width="1.07"/>
</g>
<text x="828.5" y="405.75">0</text>
<text x="828.5" y="347.20">50</text>
<text x="828.5" y="288.65">100</text>
<text x="828.5" y="230.11">150</text>
<text x="828.5" y="171.56">200</text>
<text x="828.5" y="113.01">250</text>
<text transform="translate(878.4,249.8) rotate(-90)" text-anchor="middle">Counts</text>
</svg>
</body></html>
